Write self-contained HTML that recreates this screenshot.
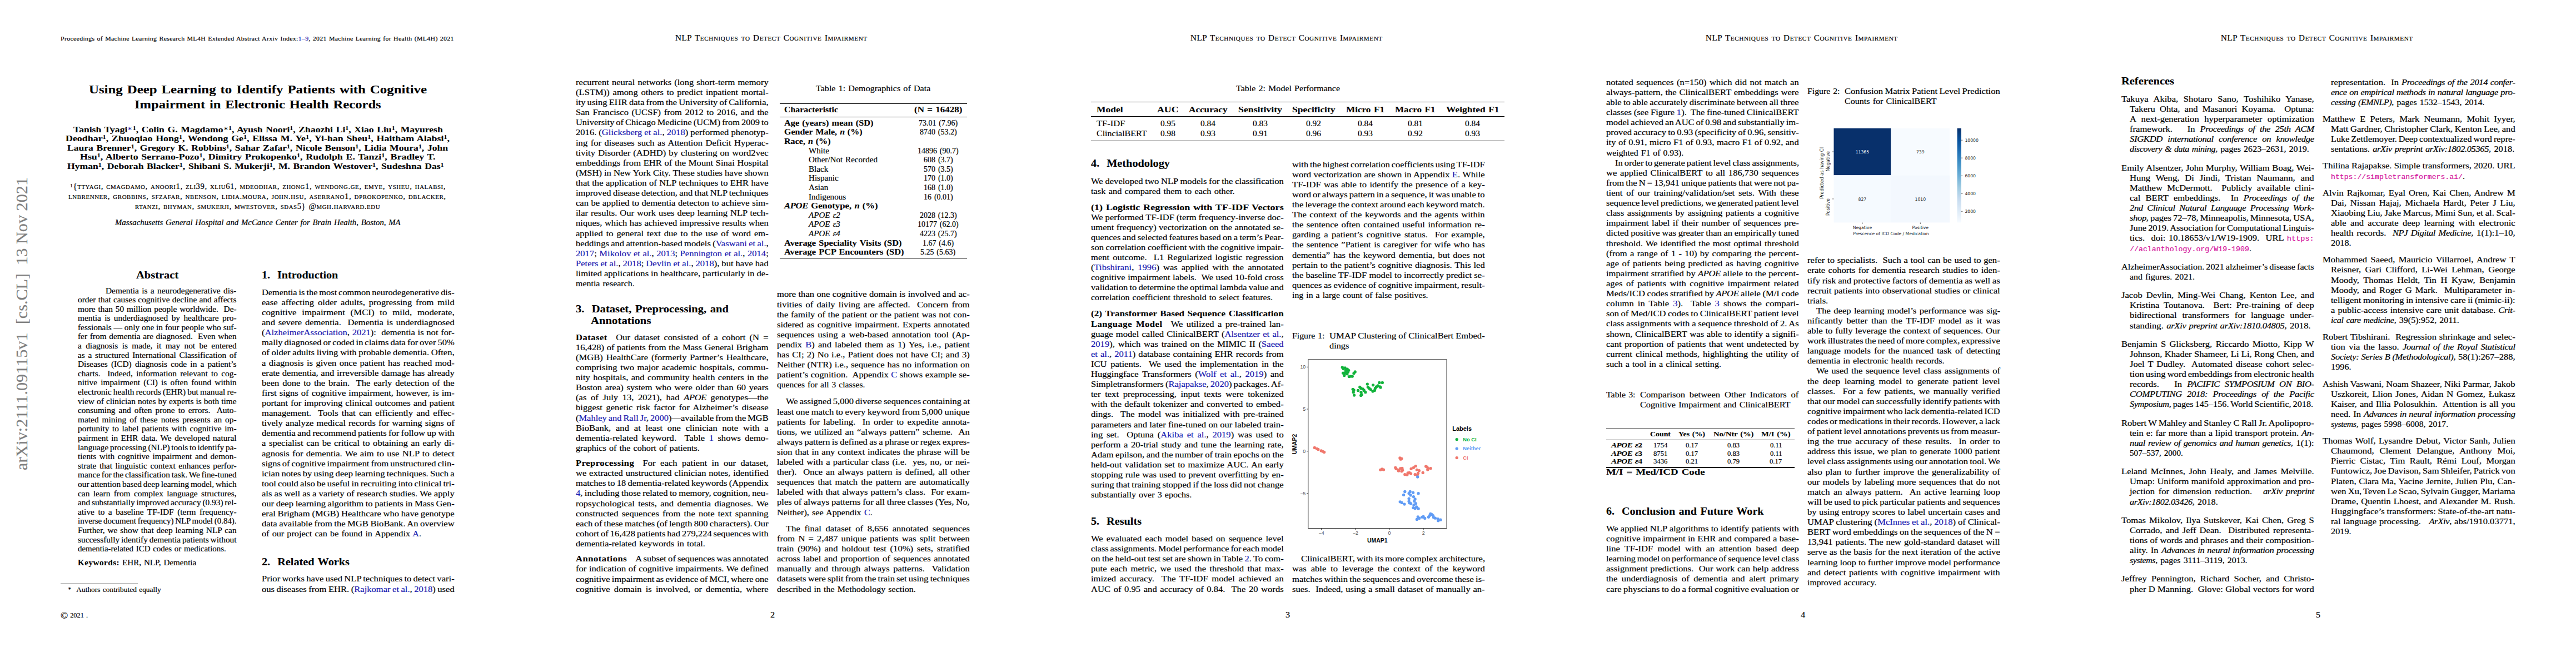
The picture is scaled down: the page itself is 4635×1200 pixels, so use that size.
<!DOCTYPE html>
<html lang="en"><head><meta charset="utf-8"><title>Using Deep Learning to Identify Patients with Cognitive Impairment in Electronic Health Records</title>
<style>

html,body{margin:0;padding:0;background:#fff}
body{width:4635px;height:1200px;position:relative;overflow:hidden;font-family:"Liberation Serif",serif;color:#000}
.pg{position:absolute;top:0;width:927px;height:1200px;overflow:visible}
.l{position:absolute;white-space:nowrap;line-height:0;transform-origin:0 0;font-size:15.09px;-webkit-text-stroke:0.18px currentColor}
.b,b{font-weight:bold;-webkit-text-stroke:0.1px currentColor}
.i{font-style:italic}
i{letter-spacing:-0.35px}
.sc{font-variant:small-caps;letter-spacing:0.04em}
.hd{letter-spacing:0.03em}
a{color:#1a1ab0}
tt{font-family:"Liberation Mono",monospace;font-size:0.82em;color:#d4149c}
sup{font-size:68%;position:relative;top:-0.38em;vertical-align:baseline;line-height:0}
sup.n{font-variant:normal}
.as{font-weight:normal;font-size:85%}
.cr{font-size:140%;position:relative;top:0.12em}
b{letter-spacing:0.45px}
.q{display:inline-block;width:0.92em}
.ru{position:absolute}
.fig{position:absolute}
.stamp{color:#7f7f7f}

</style></head><body>
<div class="pg" style="left:0px">
<div class="l hd" style="left:109.40px;top:70.00px;font-size:10.56px;word-spacing:0.74px;transform:scaleX(1.1164);">Proceedings of Machine Learning Research ML4H Extended Abstract Arxiv Index:<a>1–9</a>, 2021 Machine Learning for Health (ML4H) 2021</div>
<div class="l b" style="left:159.80px;top:161.00px;font-size:21.73px;word-spacing:1.52px;transform:scaleX(1.1445);">Using Deep Learning to Identify Patients with Cognitive</div>
<div class="l b" style="left:241.60px;top:188.00px;font-size:21.73px;word-spacing:1.52px;transform:scaleX(1.1326);">Impairment in Electronic Health Records</div>
<div class="l b" style="left:131.50px;top:233.00px;word-spacing:1.06px;transform:scaleX(1.1681);">Tanish Tyagi<sup><a class="as">∗</a>1</sup>, Colin G. Magdamo<sup><span class="as">∗</span>1</sup>, Ayush Noori<sup>1</sup>, Zhaozhi Li<sup>1</sup>, Xiao Liu<sup>1</sup>, Mayuresh</div>
<div class="l b" style="left:118.00px;top:249.00px;word-spacing:1.06px;transform:scaleX(1.1862);">Deodhar<sup>1</sup>, Zhuoqiao Hong<sup>1</sup>, Wendong Ge<sup>1</sup>, Elissa M. Ye<sup>1</sup>, Yi-han Sheu<sup>1</sup>, Haitham Alabsi<sup>1</sup>,</div>
<div class="l b" style="left:121.00px;top:266.00px;word-spacing:1.06px;transform:scaleX(1.1664);">Laura Brenner<sup>1</sup>, Gregory K. Robbins<sup>1</sup>, Sahar Zafar<sup>1</sup>, Nicole Benson<sup>1</sup>, Lidia Moura<sup>1</sup>, John</div>
<div class="l b" style="left:144.00px;top:282.00px;word-spacing:1.06px;transform:scaleX(1.1847);">Hsu<sup>1</sup>, Alberto Serrano-Pozo<sup>1</sup>, Dimitry Prokopenko<sup>1</sup>, Rudolph E. Tanzi<sup>1</sup>, Bradley T.</div>
<div class="l b" style="left:121.00px;top:299.00px;word-spacing:1.06px;transform:scaleX(1.1688);">Hyman<sup>1</sup>, Deborah Blacker<sup>1</sup>, Shibani S. Mukerji<sup>1</sup>, M. Brandon Westover<sup>1</sup>, Sudeshna Das<sup>1</sup></div>
<div class="l sc" style="left:125.50px;top:336.00px;font-size:13.58px;word-spacing:0.95px;transform:scaleX(1.0809);"><sup class="n">1</sup>{ttyagi, cmagdamo, anoori1, zli39, xliu61, mdeodhar, zhong1, wendong.ge, emye, ysheu, halabsi,</div>
<div class="l sc" style="left:123.40px;top:354.00px;font-size:13.58px;word-spacing:0.95px;transform:scaleX(1.0896);">lnbrenner, grobbins, sfzafar, nbenson, lidia.moura, john.hsu, aserrano1, dprokopenko, dblacker,</div>
<div class="l sc" style="left:243.00px;top:372.00px;font-size:13.58px;word-spacing:0.95px;transform:scaleX(1.0781);">rtanzi, bhyman, smukerji, mwestover, sdas5} @mgh.harvard.edu</div>
<div class="l i" style="left:207.00px;top:401.00px;font-size:13.58px;word-spacing:0.95px;transform:scaleX(1.0902);">Massachusetts General Hospital and McCance Center for Brain Health, Boston, MA</div>
<div class="l b" style="left:244.60px;top:495.00px;font-size:18.11px;transform:scaleX(1.1307);">Abstract</div>
<div class="l b" style="left:471.30px;top:495.00px;font-size:18.11px;word-spacing:1.27px;transform:scaleX(1.1121);">1.&nbsp; Introduction</div>
<div class="l" style="left:190.00px;top:524.00px;font-size:13.58px;word-spacing:1.37px;transform:scaleX(1.1330);">Dementia is a neurodegenerative dis-</div>
<div class="l" style="left:139.60px;top:540.00px;font-size:13.58px;word-spacing:0.33px;transform:scaleX(1.1330);">order that causes cognitive decline and affects</div>
<div class="l" style="left:139.60px;top:557.00px;font-size:13.58px;word-spacing:0.89px;transform:scaleX(1.1330);">more than 50 million people worldwide.&nbsp; De-</div>
<div class="l" style="left:139.60px;top:573.00px;font-size:13.58px;word-spacing:2.23px;transform:scaleX(1.1330);">mentia is underdiagnosed by healthcare pro-</div>
<div class="l" style="left:139.60px;top:590.00px;font-size:13.58px;word-spacing:0.02px;transform:scaleX(1.1330);">fessionals — only one in four people who suf-</div>
<div class="l" style="left:139.60px;top:606.00px;font-size:13.58px;word-spacing:0.68px;transform:scaleX(1.1330);">fer from dementia are diagnosed.&nbsp; Even when</div>
<div class="l" style="left:139.60px;top:623.00px;font-size:13.58px;word-spacing:3.09px;transform:scaleX(1.1330);">a diagnosis is made, it may not be entered</div>
<div class="l" style="left:139.60px;top:640.00px;font-size:13.58px;word-spacing:1.62px;transform:scaleX(1.1330);">as a structured International Classification of</div>
<div class="l" style="left:139.60px;top:656.00px;font-size:13.58px;word-spacing:2.04px;transform:scaleX(1.1330);">Diseases (ICD) diagnosis code in a patient’s</div>
<div class="l" style="left:139.60px;top:673.00px;font-size:13.58px;word-spacing:2.17px;transform:scaleX(1.1330);">charts.&nbsp; Indeed, information relevant to cog-</div>
<div class="l" style="left:139.60px;top:689.00px;font-size:13.58px;word-spacing:2.04px;transform:scaleX(1.1330);">nitive impairment (CI) is often found within</div>
<div class="l" style="left:139.60px;top:706.00px;font-size:13.58px;word-spacing:-0.59px;transform:scaleX(1.1330);">electronic health records (EHR) but manual re-</div>
<div class="l" style="left:139.60px;top:723.00px;font-size:13.58px;word-spacing:0.21px;transform:scaleX(1.1330);">view of clinician notes by experts is both time</div>
<div class="l" style="left:139.60px;top:739.00px;font-size:13.58px;word-spacing:1.96px;transform:scaleX(1.1330);">consuming and often prone to errors.&nbsp; Auto-</div>
<div class="l" style="left:139.60px;top:756.00px;font-size:13.58px;word-spacing:1.91px;transform:scaleX(1.1330);">mated mining of these notes presents an op-</div>
<div class="l" style="left:139.60px;top:772.00px;font-size:13.58px;word-spacing:1.54px;transform:scaleX(1.1330);">portunity to label patients with cognitive im-</div>
<div class="l" style="left:139.60px;top:789.00px;font-size:13.58px;word-spacing:1.45px;transform:scaleX(1.1330);">pairment in EHR data. We developed natural</div>
<div class="l" style="left:139.60px;top:806.00px;font-size:13.58px;word-spacing:-0.95px;transform:scaleX(1.1289);">language processing (NLP) tools to identify pa-</div>
<div class="l" style="left:139.60px;top:822.00px;font-size:13.58px;word-spacing:1.47px;transform:scaleX(1.1330);">tients with cognitive impairment and demon-</div>
<div class="l" style="left:139.60px;top:839.00px;font-size:13.58px;word-spacing:1.53px;transform:scaleX(1.1330);">strate that linguistic context enhances perfor-</div>
<div class="l" style="left:139.60px;top:855.00px;font-size:13.58px;word-spacing:-0.95px;transform:scaleX(1.1300);">mance for the classification task. We fine-tuned</div>
<div class="l" style="left:139.60px;top:872.00px;font-size:13.58px;word-spacing:-0.91px;transform:scaleX(1.1330);">our attention based deep learning model, which</div>
<div class="l" style="left:139.60px;top:889.00px;font-size:13.58px;word-spacing:2.16px;transform:scaleX(1.1330);">can learn from complex language structures,</div>
<div class="l" style="left:139.60px;top:905.00px;font-size:13.58px;word-spacing:-0.95px;transform:scaleX(1.1316);">and substantially improved accuracy (0.93) rel-</div>
<div class="l" style="left:139.60px;top:922.00px;font-size:13.58px;word-spacing:2.34px;transform:scaleX(1.1330);">ative to a baseline TF-IDF (term frequency-</div>
<div class="l" style="left:139.60px;top:938.00px;font-size:13.58px;word-spacing:-0.95px;transform:scaleX(1.1024);">inverse document frequency) NLP model (0.84).</div>
<div class="l" style="left:139.60px;top:955.00px;font-size:13.58px;word-spacing:0.93px;transform:scaleX(1.1330);">Further, we show that deep learning NLP can</div>
<div class="l" style="left:139.60px;top:972.00px;font-size:13.58px;word-spacing:-0.90px;transform:scaleX(1.1330);">successfully identify dementia patients without</div>
<div class="l" style="left:139.60px;top:988.00px;font-size:13.58px;word-spacing:0.95px;transform:scaleX(1.0965);">dementia-related ICD codes or medications.</div>
<div class="l" style="left:139.90px;top:1013.00px;font-size:13.58px;word-spacing:0.95px;transform:scaleX(1.1149);"><b>Keywords:</b> EHR, NLP, Dementia</div>
<div class="l" style="left:121.60px;top:1061.00px;font-size:12.07px;word-spacing:0.84px;transform:scaleX(1.1124);"><sup class="n" style="font-size:60%;top:-0.55em">∗</sup>&nbsp;&nbsp;Authors contributed equally</div>
<div class="l" style="left:109.00px;top:1106.00px;font-size:12.07px;word-spacing:0.84px;transform:scaleX(1.0275);"><span class="cr">©</span> 2021 .</div>
<div class="l" style="left:471.30px;top:526.00px;word-spacing:-1.06px;transform:scaleX(1.0854);">Dementia is the most common neurodegenerative dis-</div>
<div class="l" style="left:471.30px;top:544.00px;word-spacing:2.54px;transform:scaleX(1.1000);">ease affecting older adults, progressing from mild</div>
<div class="l" style="left:471.30px;top:562.00px;word-spacing:4.98px;transform:scaleX(1.1152);">cognitive impairment (MCI) to mild, moderate,</div>
<div class="l" style="left:471.30px;top:580.00px;word-spacing:1.52px;transform:scaleX(1.1000);">and severe dementia.&nbsp; Dementia is underdiagnosed</div>
<div class="l" style="left:471.30px;top:598.00px;word-spacing:0.44px;transform:scaleX(1.1000);">(<a>AlzheimerAssociation</a>, <a>2021</a>):&nbsp; dementia is not for-</div>
<div class="l" style="left:471.30px;top:616.00px;word-spacing:-1.06px;transform:scaleX(1.0948);">mally diagnosed or coded in claims data for over 50%</div>
<div class="l" style="left:471.30px;top:634.00px;word-spacing:-0.38px;transform:scaleX(1.1000);">of older adults living with probable dementia. Often,</div>
<div class="l" style="left:471.30px;top:653.00px;word-spacing:1.19px;transform:scaleX(1.1000);">a diagnosis is given once patient has reached mod-</div>
<div class="l" style="left:471.30px;top:671.00px;word-spacing:0.41px;transform:scaleX(1.1000);">erate dementia, and irreversible damage has already</div>
<div class="l" style="left:471.30px;top:689.00px;word-spacing:1.53px;transform:scaleX(1.1000);">been done to the brain.&nbsp; The early detection of the</div>
<div class="l" style="left:471.30px;top:707.00px;word-spacing:0.78px;transform:scaleX(1.1000);">first signs of cognitive impairment, however, is im-</div>
<div class="l" style="left:471.30px;top:725.00px;word-spacing:0.75px;transform:scaleX(1.1000);">portant for improving clinical outcomes and patient</div>
<div class="l" style="left:471.30px;top:743.00px;word-spacing:1.87px;transform:scaleX(1.1000);">management.&nbsp; Tools that can efficiently and effec-</div>
<div class="l" style="left:471.30px;top:761.00px;word-spacing:0.82px;transform:scaleX(1.1000);">tively analyze medical records for warning signs of</div>
<div class="l" style="left:471.30px;top:779.00px;word-spacing:-0.74px;transform:scaleX(1.1000);">dementia and recommend patients for follow up with</div>
<div class="l" style="left:471.30px;top:797.00px;word-spacing:1.29px;transform:scaleX(1.1000);">a specialist can be critical to obtaining an early di-</div>
<div class="l" style="left:471.30px;top:816.00px;word-spacing:1.10px;transform:scaleX(1.1000);">agnosis for dementia. We aim to use NLP to detect</div>
<div class="l" style="left:471.30px;top:834.00px;word-spacing:-1.06px;transform:scaleX(1.0910);">signs of cognitive impairment from unstructured clin-</div>
<div class="l" style="left:471.30px;top:852.00px;word-spacing:-0.85px;transform:scaleX(1.1000);">ician notes by using deep learning techniques. Such a</div>
<div class="l" style="left:471.30px;top:870.00px;word-spacing:-0.85px;transform:scaleX(1.1000);">tool could also be useful in recruiting into clinical tri-</div>
<div class="l" style="left:471.30px;top:888.00px;word-spacing:-0.03px;transform:scaleX(1.1000);">als as well as a variety of research studies. We apply</div>
<div class="l" style="left:471.30px;top:906.00px;word-spacing:-0.49px;transform:scaleX(1.1000);">our deep learning algorithm to patients in Mass Gen-</div>
<div class="l" style="left:471.30px;top:924.00px;word-spacing:-0.37px;transform:scaleX(1.1000);">eral Brigham (MGB) Healthcare who have genotype</div>
<div class="l" style="left:471.30px;top:942.00px;word-spacing:-0.56px;transform:scaleX(1.1000);">data available from the MGB BioBank. An overview</div>
<div class="l" style="left:471.30px;top:960.00px;word-spacing:1.06px;transform:scaleX(1.0722);">of our project can be found in Appendix <a>A</a>.</div>
<div class="l b" style="left:471.30px;top:1011.00px;font-size:18.11px;word-spacing:1.27px;transform:scaleX(1.1180);">2.&nbsp; Related Works</div>
<div class="l" style="left:471.30px;top:1041.00px;word-spacing:-0.84px;transform:scaleX(1.1000);">Prior works have used NLP techniques to detect vari-</div>
<div class="l" style="left:471.30px;top:1060.00px;word-spacing:-0.65px;transform:scaleX(1.1000);">ous diseases from EHR. (<a>Rajkomar et al.</a>, <a>2018</a>) used</div>
<div class="l stamp" style="left:38.90px;top:846.40px;font-size:30.30px;transform:rotate(-90deg) scaleX(0.9973);">arXiv:2111.09115v1&nbsp; [cs.CL]&nbsp; 13 Nov 2021</div>
<div class="ru" style="left:109.00px;top:1049.80px;width:138.60px;height:0.80px;background:#000"></div>
</div>
<div class="pg" style="left:927px">
<div class="l sc" style="left:288.00px;top:69.00px;font-size:13.58px;word-spacing:0.95px;transform:scaleX(1.1135);">NLP Techniques to Detect Cognitive Impairment</div>
<div class="l" style="left:109.00px;top:148.00px;word-spacing:0.82px;transform:scaleX(1.1000);">recurrent neural networks (long short-term memory</div>
<div class="l" style="left:109.00px;top:166.00px;word-spacing:1.44px;transform:scaleX(1.1000);">(LSTM)) among others to predict inpatient mortal-</div>
<div class="l" style="left:109.00px;top:184.00px;word-spacing:-0.96px;transform:scaleX(1.1000);">ity using EHR data from the University of California,</div>
<div class="l" style="left:109.00px;top:202.00px;word-spacing:1.34px;transform:scaleX(1.1000);">San Francisco (UCSF) from 2012 to 2016, and the</div>
<div class="l" style="left:109.00px;top:220.00px;word-spacing:-1.06px;transform:scaleX(1.0903);">University of Chicago Medicine (UCM) from 2009 to</div>
<div class="l" style="left:109.00px;top:238.00px;word-spacing:-0.12px;transform:scaleX(1.1000);">2016. (<a>Glicksberg et al.</a>, <a>2018</a>) performed phenotyp-</div>
<div class="l" style="left:109.00px;top:257.00px;word-spacing:1.18px;transform:scaleX(1.1000);">ing for diseases such as Attention Deficit Hyperac-</div>
<div class="l" style="left:109.00px;top:275.00px;word-spacing:0.88px;transform:scaleX(1.1000);">tivity Disorder (ADHD) by clustering on word2vec</div>
<div class="l" style="left:109.00px;top:293.00px;word-spacing:0.45px;transform:scaleX(1.1000);">embeddings from EHR of the Mount Sinai Hospital</div>
<div class="l" style="left:109.00px;top:311.00px;word-spacing:-0.13px;transform:scaleX(1.1000);">(MSH) in New York City. These studies have shown</div>
<div class="l" style="left:109.00px;top:329.00px;word-spacing:0.21px;transform:scaleX(1.1000);">that the application of NLP techniques to EHR have</div>
<div class="l" style="left:109.00px;top:347.00px;word-spacing:-0.76px;transform:scaleX(1.1000);">improved disease detection, and that NLP techniques</div>
<div class="l" style="left:109.00px;top:365.00px;word-spacing:0.36px;transform:scaleX(1.1000);">can be applied to dementia detecton to achieve sim-</div>
<div class="l" style="left:109.00px;top:383.00px;word-spacing:0.68px;transform:scaleX(1.1000);">ilar results. Our work uses deep learning NLP tech-</div>
<div class="l" style="left:109.00px;top:401.00px;word-spacing:0.26px;transform:scaleX(1.1000);">niques, which has achieved impressive results when</div>
<div class="l" style="left:109.00px;top:420.00px;word-spacing:1.54px;transform:scaleX(1.1000);">applied to general text due to the use of word em-</div>
<div class="l" style="left:109.00px;top:438.00px;word-spacing:-0.79px;transform:scaleX(1.1000);">beddings and attention-based models (<a>Vaswani et al.</a>,</div>
<div class="l" style="left:109.00px;top:456.00px;word-spacing:0.34px;transform:scaleX(1.1000);"><a>2017</a>; <a>Mikolov et al.</a>, <a>2013</a>; <a>Pennington et al.</a>, <a>2014</a>;</div>
<div class="l" style="left:109.00px;top:474.00px;word-spacing:-0.18px;transform:scaleX(1.1000);"><a>Peters et al.</a>, <a>2018</a>; <a>Devlin et al.</a>, <a>2018</a>), but have had</div>
<div class="l" style="left:109.00px;top:492.00px;word-spacing:-0.15px;transform:scaleX(1.1000);">limited applications in healthcare, particularly in de-</div>
<div class="l" style="left:109.00px;top:510.00px;word-spacing:1.06px;transform:scaleX(1.0586);">mentia research.</div>
<div class="l b" style="left:109.00px;top:556.00px;font-size:18.11px;word-spacing:1.27px;transform:scaleX(1.1395);">3.&nbsp; Dataset, Preprocessing, and</div>
<div class="l b" style="left:136.00px;top:577.00px;font-size:18.11px;transform:scaleX(1.1468);">Annotations</div>
<div class="l" style="left:109.00px;top:607.00px;word-spacing:2.79px;transform:scaleX(1.1000);"><b>Dataset</b><span class="q"></span>Our dataset consisted of a cohort (N =</div>
<div class="l" style="left:109.00px;top:625.00px;word-spacing:0.40px;transform:scaleX(1.1000);">16,428) of patients from the Mass General Brigham</div>
<div class="l" style="left:109.00px;top:643.00px;word-spacing:1.51px;transform:scaleX(1.1000);">(MGB) HealthCare (formerly Partner’s Healthcare,</div>
<div class="l" style="left:109.00px;top:661.00px;word-spacing:1.23px;transform:scaleX(1.1000);">comprising two major academic hospitals, commu-</div>
<div class="l" style="left:109.00px;top:679.00px;word-spacing:1.12px;transform:scaleX(1.1000);">nity hospitals, and community health centers in the</div>
<div class="l" style="left:109.00px;top:697.00px;word-spacing:1.40px;transform:scaleX(1.1000);">Boston area) system who were older than 60 years</div>
<div class="l" style="left:109.00px;top:715.00px;word-spacing:3.17px;transform:scaleX(1.1000);">(as of July 13, 2021), had <i>APOE</i> genotypes—the</div>
<div class="l" style="left:109.00px;top:733.00px;word-spacing:2.19px;transform:scaleX(1.1000);">biggest genetic risk factor for Alzheimer’s disease</div>
<div class="l" style="left:109.00px;top:752.00px;word-spacing:-1.06px;transform:scaleX(1.0909);">(<a>Mahley and Rall Jr</a>, <a>2000</a>)—available from the MGB</div>
<div class="l" style="left:109.00px;top:770.00px;word-spacing:4.28px;transform:scaleX(1.1000);">BioBank, and at least one clinician note with a</div>
<div class="l" style="left:109.00px;top:788.00px;word-spacing:2.99px;transform:scaleX(1.1000);">dementia-related keyword.&nbsp; Table <a>1</a> shows demo-</div>
<div class="l" style="left:109.00px;top:806.00px;word-spacing:1.06px;transform:scaleX(1.0719);">graphics of the cohort of patients.</div>
<div class="l" style="left:109.00px;top:833.00px;word-spacing:3.93px;transform:scaleX(1.1000);"><b>Preprocessing</b><span class="q"></span>For each patient in our dataset,</div>
<div class="l" style="left:109.00px;top:851.00px;word-spacing:0.57px;transform:scaleX(1.1000);">we extracted unstructured clinician notes, identified</div>
<div class="l" style="left:109.00px;top:869.00px;word-spacing:-0.86px;transform:scaleX(1.1000);">matches to 18 dementia-related keywords (Appendix</div>
<div class="l" style="left:109.00px;top:887.00px;word-spacing:-0.66px;transform:scaleX(1.1000);"><a>4</a>, including those related to memory, cognition, neu-</div>
<div class="l" style="left:109.00px;top:906.00px;word-spacing:1.95px;transform:scaleX(1.1000);">ropsychological tests, and dementia diagnoses. We</div>
<div class="l" style="left:109.00px;top:924.00px;word-spacing:1.86px;transform:scaleX(1.1000);">constructed sequences from the note text spanning</div>
<div class="l" style="left:109.00px;top:942.00px;word-spacing:-0.85px;transform:scaleX(1.1000);">each of these matches (of length 800 characters). Our</div>
<div class="l" style="left:109.00px;top:960.00px;word-spacing:-1.06px;transform:scaleX(1.0932);">cohort of 16,428 patients had 279,224 sequences with</div>
<div class="l" style="left:109.00px;top:978.00px;word-spacing:1.06px;transform:scaleX(1.0748);">dementia-related keywords in total.</div>
<div class="l" style="left:109.00px;top:1005.00px;word-spacing:-0.95px;transform:scaleX(1.1000);"><b>Annotations</b><span class="q"></span>A subset of sequences was annotated</div>
<div class="l" style="left:109.00px;top:1023.00px;word-spacing:0.37px;transform:scaleX(1.1000);">for indication of cognitive impairments. We defined</div>
<div class="l" style="left:109.00px;top:1042.00px;word-spacing:-0.91px;transform:scaleX(1.1000);">cognitive impairment as evidence of MCI, where one</div>
<div class="l" style="left:109.00px;top:1060.00px;word-spacing:2.70px;transform:scaleX(1.1000);">cognitive domain is involved, or dementia, where</div>
<div class="l" style="left:458.92px;top:1106.00px;word-spacing:1.06px;transform:scaleX(1.0800);">2</div>
<div class="l" style="left:541.45px;top:159.00px;word-spacing:1.06px;transform:scaleX(1.0675);">Table 1: Demographics of Data</div>
<div class="l b" style="left:484.00px;top:198.00px;font-size:13.58px;transform:scaleX(1.1693);">Characteristic</div>
<div class="l b" style="left:717.85px;top:198.00px;font-size:13.58px;word-spacing:0.95px;transform:scaleX(1.2466);">(N = 16428)</div>
<div class="l b" style="left:484.00px;top:222.00px;font-size:13.58px;word-spacing:0.95px;transform:scaleX(1.2005);">Age (years) mean (SD)</div>
<div class="l" style="left:725.92px;top:222.00px;font-size:13.58px;word-spacing:1.36px;transform:scaleX(1.0300);">73.01 (7.96)</div>
<div class="l b" style="left:484.00px;top:238.00px;font-size:13.58px;word-spacing:0.95px;transform:scaleX(1.1789);">Gender Male, <i>n</i> (%)</div>
<div class="l" style="left:727.67px;top:238.00px;font-size:13.58px;word-spacing:1.36px;transform:scaleX(1.0300);">8740 (53.2)</div>
<div class="l b" style="left:484.00px;top:255.00px;font-size:13.58px;word-spacing:0.95px;transform:scaleX(1.1832);">Race, <i>n</i> (%)</div>
<div class="l" style="left:528.30px;top:272.00px;font-size:13.58px;word-spacing:0.95px;transform:scaleX(1.1124);">White</div>
<div class="l" style="left:724.17px;top:272.00px;font-size:13.58px;word-spacing:1.36px;transform:scaleX(1.0300);">14896 (90.7)</div>
<div class="l" style="left:528.30px;top:288.00px;font-size:13.58px;word-spacing:0.95px;transform:scaleX(1.1124);">Other/Not Recorded</div>
<div class="l" style="left:734.66px;top:288.00px;font-size:13.58px;word-spacing:1.36px;transform:scaleX(1.0300);">608 (3.7)</div>
<div class="l" style="left:528.30px;top:305.00px;font-size:13.58px;word-spacing:0.95px;transform:scaleX(1.1124);">Black</div>
<div class="l" style="left:734.66px;top:305.00px;font-size:13.58px;word-spacing:1.36px;transform:scaleX(1.0300);">570 (3.5)</div>
<div class="l" style="left:528.30px;top:321.00px;font-size:13.58px;word-spacing:0.95px;transform:scaleX(1.1124);">Hispanic</div>
<div class="l" style="left:734.66px;top:321.00px;font-size:13.58px;word-spacing:1.36px;transform:scaleX(1.0300);">170 (1.0)</div>
<div class="l" style="left:528.30px;top:338.00px;font-size:13.58px;word-spacing:0.95px;transform:scaleX(1.1124);">Asian</div>
<div class="l" style="left:734.66px;top:338.00px;font-size:13.58px;word-spacing:1.36px;transform:scaleX(1.0300);">168 (1.0)</div>
<div class="l" style="left:528.30px;top:355.00px;font-size:13.58px;word-spacing:0.95px;transform:scaleX(1.1124);">Indigenous</div>
<div class="l" style="left:734.66px;top:355.00px;font-size:13.58px;word-spacing:1.36px;transform:scaleX(1.0300);">16 (0.01)</div>
<div class="l b" style="left:484.00px;top:371.00px;font-size:13.58px;word-spacing:0.95px;transform:scaleX(1.2306);"><i>APOE</i> Genotype, <i>n</i> (%)</div>
<div class="l i" style="left:528.30px;top:388.00px;font-size:13.58px;word-spacing:0.95px;transform:scaleX(1.1124);">APOE ε2</div>
<div class="l" style="left:727.67px;top:388.00px;font-size:13.58px;word-spacing:1.36px;transform:scaleX(1.0300);">2028 (12.3)</div>
<div class="l i" style="left:528.30px;top:404.00px;font-size:13.58px;word-spacing:0.95px;transform:scaleX(1.1124);">APOE ε3</div>
<div class="l" style="left:724.17px;top:404.00px;font-size:13.58px;word-spacing:1.36px;transform:scaleX(1.0300);">10177 (62.0)</div>
<div class="l i" style="left:528.30px;top:421.00px;font-size:13.58px;word-spacing:0.95px;transform:scaleX(1.1124);">APOE ε4</div>
<div class="l" style="left:727.67px;top:421.00px;font-size:13.58px;word-spacing:1.36px;transform:scaleX(1.0300);">4223 (25.7)</div>
<div class="l b" style="left:484.00px;top:438.00px;font-size:13.58px;word-spacing:0.95px;transform:scaleX(1.2089);">Average Speciality Visits (SD)</div>
<div class="l" style="left:732.91px;top:438.00px;font-size:13.58px;word-spacing:1.36px;transform:scaleX(1.0300);">1.67 (4.6)</div>
<div class="l b" style="left:484.00px;top:454.00px;font-size:13.58px;word-spacing:0.95px;transform:scaleX(1.2059);">Average PCP Encounters (SD)</div>
<div class="l" style="left:729.42px;top:454.00px;font-size:13.58px;word-spacing:1.36px;transform:scaleX(1.0300);">5.25 (5.63)</div>
<div class="l" style="left:471.30px;top:529.00px;word-spacing:0.25px;transform:scaleX(1.1000);">more than one cognitive domain is involved and ac-</div>
<div class="l" style="left:471.30px;top:548.00px;word-spacing:1.91px;transform:scaleX(1.1000);">tivities of daily living are affected.&nbsp; Concern from</div>
<div class="l" style="left:471.30px;top:566.00px;word-spacing:0.62px;transform:scaleX(1.1000);">the family of the patient or the patient was not con-</div>
<div class="l" style="left:471.30px;top:584.00px;word-spacing:1.23px;transform:scaleX(1.1000);">sidered as cognitive impairment. Experts annotated</div>
<div class="l" style="left:471.30px;top:602.00px;word-spacing:2.00px;transform:scaleX(1.1000);">sequences using a web-based annotation tool (Ap-</div>
<div class="l" style="left:471.30px;top:620.00px;word-spacing:1.80px;transform:scaleX(1.1000);">pendix <a>B</a>) and labeled them as 1) Yes, i.e., patient</div>
<div class="l" style="left:471.30px;top:638.00px;word-spacing:0.94px;transform:scaleX(1.1000);">has CI; 2) No i.e., Patient does not have CI; and 3)</div>
<div class="l" style="left:471.30px;top:656.00px;word-spacing:0.64px;transform:scaleX(1.1000);">Neither (NTR) i.e., sequence has no information on</div>
<div class="l" style="left:471.30px;top:674.00px;word-spacing:0.27px;transform:scaleX(1.1000);">patient’s cognition.&nbsp; Appendix <a>C</a> shows example se-</div>
<div class="l" style="left:471.30px;top:692.00px;word-spacing:1.06px;transform:scaleX(1.0299);">quences for all 3 classes.</div>
<div class="l" style="left:486.90px;top:722.00px;word-spacing:-1.06px;transform:scaleX(1.0998);">We assigned 5,000 diverse sequences containing at</div>
<div class="l" style="left:471.30px;top:741.00px;word-spacing:-0.43px;transform:scaleX(1.1000);">least one match to every keyword from 5,000 unique</div>
<div class="l" style="left:471.30px;top:759.00px;word-spacing:1.98px;transform:scaleX(1.1000);">patients for labeling.&nbsp; In order to expedite annota-</div>
<div class="l" style="left:471.30px;top:777.00px;word-spacing:1.40px;transform:scaleX(1.1000);">tions, we utilized an “always pattern” scheme.&nbsp; An</div>
<div class="l" style="left:471.30px;top:795.00px;word-spacing:-0.75px;transform:scaleX(1.1000);">always pattern is defined as a phrase or regex expres-</div>
<div class="l" style="left:471.30px;top:813.00px;word-spacing:0.73px;transform:scaleX(1.1000);">sion that in any context indicates the phrase will be</div>
<div class="l" style="left:471.30px;top:831.00px;word-spacing:1.12px;transform:scaleX(1.1000);">labeled with a particular class (i.e.&nbsp; yes, no, or nei-</div>
<div class="l" style="left:471.30px;top:849.00px;word-spacing:1.57px;transform:scaleX(1.1000);">ther).&nbsp; Once an always pattern is defined, all other</div>
<div class="l" style="left:471.30px;top:867.00px;word-spacing:1.87px;transform:scaleX(1.1000);">sequences that match the pattern are automatically</div>
<div class="l" style="left:471.30px;top:885.00px;word-spacing:0.82px;transform:scaleX(1.1000);">labeled with that always pattern’s class.&nbsp; For exam-</div>
<div class="l" style="left:471.30px;top:903.00px;word-spacing:-0.31px;transform:scaleX(1.1000);">ples of always patterns for all three classes (Yes, No,</div>
<div class="l" style="left:471.30px;top:922.00px;word-spacing:1.06px;transform:scaleX(1.0717);">Neither), see Appendix <a>C</a>.</div>
<div class="l" style="left:486.90px;top:951.00px;word-spacing:3.20px;transform:scaleX(1.1000);">The final dataset of 8,656 annotated sequences</div>
<div class="l" style="left:471.30px;top:969.00px;word-spacing:1.85px;transform:scaleX(1.1000);">from N = 2,487 unique patients was split between</div>
<div class="l" style="left:471.30px;top:987.00px;word-spacing:2.43px;transform:scaleX(1.1000);">train (90%) and holdout test (10%) sets, stratified</div>
<div class="l" style="left:471.30px;top:1005.00px;word-spacing:1.31px;transform:scaleX(1.1000);">across label and proportion of sequences annotated</div>
<div class="l" style="left:471.30px;top:1023.00px;word-spacing:2.12px;transform:scaleX(1.1000);">manually and through always patterns.&nbsp; Validation</div>
<div class="l" style="left:471.30px;top:1041.00px;word-spacing:-0.91px;transform:scaleX(1.1000);">datasets were split from the train set using techniques</div>
<div class="l" style="left:471.30px;top:1060.00px;word-spacing:1.06px;transform:scaleX(1.0627);">described in the Methodology section.</div>
<div class="ru" style="left:475.50px;top:185.55px;width:337.20px;height:1.30px;background:#000"></div>
<div class="ru" style="left:475.50px;top:210.10px;width:337.20px;height:0.80px;background:#000"></div>
<div class="ru" style="left:475.50px;top:464.15px;width:337.20px;height:1.30px;background:#000"></div>
</div>
<div class="pg" style="left:1854px">
<div class="l sc" style="left:288.00px;top:69.00px;font-size:13.58px;word-spacing:0.95px;transform:scaleX(1.1135);">NLP Techniques to Detect Cognitive Impairment</div>
<div class="l" style="left:370.00px;top:159.00px;word-spacing:1.06px;transform:scaleX(1.0633);">Table 2: Model Performance</div>
<div class="l b" style="left:118.50px;top:197.00px;transform:scaleX(1.1572);">Model</div>
<div class="l b" style="left:228.35px;top:197.00px;transform:scaleX(1.1784);">AUC</div>
<div class="l b" style="left:285.05px;top:197.00px;transform:scaleX(1.1370);">Accuracy</div>
<div class="l b" style="left:373.50px;top:197.00px;transform:scaleX(1.1786);">Sensitivity</div>
<div class="l b" style="left:471.05px;top:197.00px;transform:scaleX(1.1567);">Specificity</div>
<div class="l b" style="left:567.50px;top:197.00px;word-spacing:1.06px;transform:scaleX(1.1377);">Micro F1</div>
<div class="l b" style="left:655.75px;top:197.00px;word-spacing:1.06px;transform:scaleX(1.1326);">Macro F1</div>
<div class="l b" style="left:748.05px;top:197.00px;word-spacing:1.06px;transform:scaleX(1.1544);">Weighted F1</div>
<div class="l" style="left:118.50px;top:222.00px;transform:scaleX(1.0976);">TF-IDF</div>
<div class="l" style="left:118.50px;top:240.00px;transform:scaleX(1.0600);">ClincialBERT</div>
<div class="l" style="left:234.14px;top:222.00px;word-spacing:1.06px;transform:scaleX(1.0200);">0.95</div>
<div class="l" style="left:234.14px;top:240.00px;word-spacing:1.06px;transform:scaleX(1.0200);">0.98</div>
<div class="l" style="left:306.34px;top:222.00px;word-spacing:1.06px;transform:scaleX(1.0200);">0.84</div>
<div class="l" style="left:306.34px;top:240.00px;word-spacing:1.06px;transform:scaleX(1.0200);">0.93</div>
<div class="l" style="left:399.54px;top:222.00px;word-spacing:1.06px;transform:scaleX(1.0200);">0.83</div>
<div class="l" style="left:399.54px;top:240.00px;word-spacing:1.06px;transform:scaleX(1.0200);">0.91</div>
<div class="l" style="left:496.34px;top:222.00px;word-spacing:1.06px;transform:scaleX(1.0200);">0.92</div>
<div class="l" style="left:496.34px;top:240.00px;word-spacing:1.06px;transform:scaleX(1.0200);">0.96</div>
<div class="l" style="left:588.54px;top:222.00px;word-spacing:1.06px;transform:scaleX(1.0200);">0.84</div>
<div class="l" style="left:588.54px;top:240.00px;word-spacing:1.06px;transform:scaleX(1.0200);">0.93</div>
<div class="l" style="left:678.54px;top:222.00px;word-spacing:1.06px;transform:scaleX(1.0200);">0.81</div>
<div class="l" style="left:678.54px;top:240.00px;word-spacing:1.06px;transform:scaleX(1.0200);">0.92</div>
<div class="l" style="left:782.34px;top:222.00px;word-spacing:1.06px;transform:scaleX(1.0200);">0.84</div>
<div class="l" style="left:782.34px;top:240.00px;word-spacing:1.06px;transform:scaleX(1.0200);">0.93</div>
<div class="l b" style="left:109.00px;top:294.00px;font-size:18.11px;word-spacing:1.27px;transform:scaleX(1.1200);">4.&nbsp; Methodology</div>
<div class="l" style="left:109.00px;top:326.00px;word-spacing:-0.36px;transform:scaleX(1.1000);">We developed two NLP models for the classification</div>
<div class="l" style="left:109.00px;top:344.00px;word-spacing:1.06px;transform:scaleX(1.0872);">task and compared them to each other.</div>
<div class="l b" style="left:109.00px;top:373.00px;word-spacing:1.06px;transform:scaleX(1.2015);">(1) Logistic Regression with TF-IDF Vectors</div>
<div class="l" style="left:109.00px;top:391.00px;word-spacing:-0.22px;transform:scaleX(1.1000);">We performed TF-IDF (term frequency-inverse doc-</div>
<div class="l" style="left:109.00px;top:409.00px;word-spacing:0.20px;transform:scaleX(1.1000);">ument frequency) vectorization on the annotated se-</div>
<div class="l" style="left:109.00px;top:427.00px;word-spacing:-0.86px;transform:scaleX(1.1000);">quences and selected features based on a term’s Pear-</div>
<div class="l" style="left:109.00px;top:445.00px;word-spacing:-0.55px;transform:scaleX(1.1000);">son correlation coefficient with the cognitive impair-</div>
<div class="l" style="left:109.00px;top:463.00px;word-spacing:1.79px;transform:scaleX(1.1000);">ment outcome.&nbsp; L1 Regularized logistic regression</div>
<div class="l" style="left:109.00px;top:481.00px;word-spacing:2.57px;transform:scaleX(1.1000);">(<a>Tibshirani</a>, <a>1996</a>) was applied with the annotated</div>
<div class="l" style="left:109.00px;top:499.00px;word-spacing:0.25px;transform:scaleX(1.1000);">cognitive impairment labels.&nbsp; We used 10-fold cross</div>
<div class="l" style="left:109.00px;top:517.00px;word-spacing:-0.97px;transform:scaleX(1.1000);">validation to determine the optimal lambda value and</div>
<div class="l" style="left:109.00px;top:535.00px;word-spacing:1.06px;transform:scaleX(1.0638);">correlation coefficient threshold to select features.</div>
<div class="l b" style="left:109.00px;top:564.00px;word-spacing:1.06px;transform:scaleX(1.1369);">(2) Transformer Based Sequence Classification</div>
<div class="l" style="left:109.00px;top:583.00px;word-spacing:2.04px;transform:scaleX(1.1000);"><b>Language Model</b><span class="q"></span>We utilized a pre-trained lan-</div>
<div class="l" style="left:109.00px;top:601.00px;word-spacing:0.94px;transform:scaleX(1.1000);">guage model called ClinicalBERT (<a>Alsentzer et al.</a>,</div>
<div class="l" style="left:109.00px;top:619.00px;word-spacing:1.55px;transform:scaleX(1.1000);"><a>2019</a>), which was trained on the MIMIC II (<a>Saeed</a></div>
<div class="l" style="left:109.00px;top:637.00px;word-spacing:0.78px;transform:scaleX(1.1000);"><a>et al.</a>, <a>2011</a>) database containing EHR records from</div>
<div class="l" style="left:109.00px;top:655.00px;word-spacing:2.26px;transform:scaleX(1.1000);">ICU patients.&nbsp; We used the implementation in the</div>
<div class="l" style="left:109.00px;top:673.00px;word-spacing:2.20px;transform:scaleX(1.1000);">Huggingface Transformers (<a>Wolf et al.</a>, <a>2019</a>) and</div>
<div class="l" style="left:109.00px;top:691.00px;word-spacing:-0.97px;transform:scaleX(1.1000);">Simpletransformers (<a>Rajapakse</a>, <a>2020</a>) packages. Af-</div>
<div class="l" style="left:109.00px;top:709.00px;word-spacing:3.19px;transform:scaleX(1.1000);">ter text preprocessing, input texts were tokenized</div>
<div class="l" style="left:109.00px;top:727.00px;word-spacing:1.06px;transform:scaleX(1.1000);">with the default tokenizer and converted to embed-</div>
<div class="l" style="left:109.00px;top:745.00px;word-spacing:2.12px;transform:scaleX(1.1000);">dings.&nbsp; The model was initialized with pre-trained</div>
<div class="l" style="left:109.00px;top:764.00px;word-spacing:0.11px;transform:scaleX(1.1000);">parameters and later fine-tuned on our labeled train-</div>
<div class="l" style="left:109.00px;top:782.00px;word-spacing:2.41px;transform:scaleX(1.1000);">ing set.&nbsp; Optuna (<a>Akiba et al.</a>, <a>2019</a>) was used to</div>
<div class="l" style="left:109.00px;top:800.00px;word-spacing:1.35px;transform:scaleX(1.1000);">perform a 20-trial study and tune the learning rate,</div>
<div class="l" style="left:109.00px;top:818.00px;word-spacing:-0.53px;transform:scaleX(1.1000);">Adam epilson, and the number of train epochs on the</div>
<div class="l" style="left:109.00px;top:836.00px;word-spacing:1.12px;transform:scaleX(1.1000);">held-out validation set to maximize AUC. An early</div>
<div class="l" style="left:109.00px;top:854.00px;word-spacing:0.45px;transform:scaleX(1.1000);">stopping rule was used to prevent overfitting by en-</div>
<div class="l" style="left:109.00px;top:872.00px;word-spacing:-0.58px;transform:scaleX(1.1000);">suring that training stopped if the loss did not change</div>
<div class="l" style="left:109.00px;top:890.00px;word-spacing:1.06px;transform:scaleX(1.0622);">substantially over 3 epochs.</div>
<div class="l b" style="left:109.00px;top:938.00px;font-size:18.11px;word-spacing:1.27px;transform:scaleX(1.1163);">5.&nbsp; Results</div>
<div class="l" style="left:109.00px;top:969.00px;word-spacing:1.72px;transform:scaleX(1.1000);">We evaluated each model based on sequence level</div>
<div class="l" style="left:109.00px;top:987.00px;word-spacing:-1.06px;transform:scaleX(1.0784);">class assignments. Model performance for each model</div>
<div class="l" style="left:109.00px;top:1005.00px;word-spacing:-0.72px;transform:scaleX(1.1000);">on the held-out test set are shown in Table <a>2</a>. To com-</div>
<div class="l" style="left:109.00px;top:1023.00px;word-spacing:1.98px;transform:scaleX(1.1000);">pute each metric, we used the threshold that max-</div>
<div class="l" style="left:109.00px;top:1041.00px;word-spacing:2.30px;transform:scaleX(1.1000);">imized accuracy.&nbsp; The TF-IDF model achieved an</div>
<div class="l" style="left:109.00px;top:1060.00px;word-spacing:1.35px;transform:scaleX(1.1000);">AUC of 0.95 and accuracy of 0.84.&nbsp; The 20 words</div>
<div class="l" style="left:458.92px;top:1106.00px;word-spacing:1.06px;transform:scaleX(1.0800);">3</div>
<div class="l" style="left:471.30px;top:296.00px;word-spacing:-1.06px;transform:scaleX(1.0843);">with the highest correlation coefficients using TF-IDF</div>
<div class="l" style="left:471.30px;top:314.00px;word-spacing:0.20px;transform:scaleX(1.1000);">word vectorization are shown in Appendix <a>E</a>. While</div>
<div class="l" style="left:471.30px;top:332.00px;word-spacing:1.11px;transform:scaleX(1.1000);">TF-IDF was able to identify the presence of a key-</div>
<div class="l" style="left:471.30px;top:350.00px;word-spacing:-1.06px;transform:scaleX(1.0985);">word or always pattern in a sequence, it was unable to</div>
<div class="l" style="left:471.30px;top:368.00px;word-spacing:-0.91px;transform:scaleX(1.1000);">the leverage the context around each keyword match.</div>
<div class="l" style="left:471.30px;top:386.00px;word-spacing:1.29px;transform:scaleX(1.1000);">The context of the keywords and the agents within</div>
<div class="l" style="left:471.30px;top:404.00px;word-spacing:1.31px;transform:scaleX(1.1000);">the sentence often contained useful information re-</div>
<div class="l" style="left:471.30px;top:422.00px;word-spacing:2.13px;transform:scaleX(1.1000);">garding a patient’s cognitive status.&nbsp; For example,</div>
<div class="l" style="left:471.30px;top:440.00px;word-spacing:1.19px;transform:scaleX(1.1000);">the sentence ”Patient is caregiver for wife who has</div>
<div class="l" style="left:471.30px;top:459.00px;word-spacing:1.48px;transform:scaleX(1.1000);">dementia” has the keyword dementia, but does not</div>
<div class="l" style="left:471.30px;top:477.00px;word-spacing:0.56px;transform:scaleX(1.1000);">pertain to the patient’s cognitive diagnosis. This led</div>
<div class="l" style="left:471.30px;top:495.00px;word-spacing:0.02px;transform:scaleX(1.1000);">the baseline TF-IDF model to incorrectly predict se-</div>
<div class="l" style="left:471.30px;top:513.00px;word-spacing:-0.44px;transform:scaleX(1.1000);">quences as evidence of cognitive impairment, result-</div>
<div class="l" style="left:471.30px;top:531.00px;word-spacing:1.06px;transform:scaleX(1.0483);">ing in a large count of false positives.</div>
<div class="l" style="left:471.30px;top:604.00px;word-spacing:1.06px;transform:scaleX(1.0459);">Figure 1:</div>
<div class="l" style="left:538.30px;top:604.00px;word-spacing:-0.16px;transform:scaleX(1.1000);">UMAP Clustering of ClinicalBert Embed-</div>
<div class="l" style="left:538.30px;top:622.00px;word-spacing:1.06px;transform:scaleX(1.0800);">dings</div>
<div class="l" style="left:486.90px;top:1005.00px;word-spacing:-0.95px;transform:scaleX(1.1000);">ClinicalBERT, with its more complex architecture,</div>
<div class="l" style="left:471.30px;top:1023.00px;word-spacing:3.39px;transform:scaleX(1.1000);">was able to leverage the context of the keyword</div>
<div class="l" style="left:471.30px;top:1042.00px;word-spacing:-0.85px;transform:scaleX(1.1000);">matches within the sequences and overcome these is-</div>
<div class="l" style="left:471.30px;top:1060.00px;word-spacing:0.54px;transform:scaleX(1.1000);">sues.&nbsp; Indeed, using a small dataset of manually an-</div>
<div class="ru" style="left:109.00px;top:182.90px;width:743.80px;height:1.40px;background:#000"></div>
<div class="ru" style="left:109.00px;top:209.15px;width:743.80px;height:0.90px;background:#000"></div>
<div class="ru" style="left:109.00px;top:252.70px;width:743.80px;height:1.40px;background:#000"></div>
<svg class="fig" style="left:0;top:0" width="927" height="1200" viewBox="0 0 927 1200" font-family="Liberation Sans, sans-serif">
<rect x="499.8" y="646.9" width="249.3" height="303.7" fill="#fff" stroke="#333" stroke-width="1.1"/>
<circle cx="561.3" cy="660.9" r="2.65" fill="#12b33c"/>
<circle cx="563.2" cy="663.6" r="2.65" fill="#12b33c"/>
<circle cx="566.1" cy="662.0" r="2.65" fill="#12b33c"/>
<circle cx="568.5" cy="665.2" r="2.65" fill="#12b33c"/>
<circle cx="570.2" cy="664.1" r="2.65" fill="#12b33c"/>
<circle cx="572.6" cy="666.3" r="2.65" fill="#12b33c"/>
<circle cx="571.5" cy="669.0" r="2.65" fill="#12b33c"/>
<circle cx="568.0" cy="669.5" r="2.65" fill="#12b33c"/>
<circle cx="565.3" cy="671.7" r="2.65" fill="#12b33c"/>
<circle cx="562.6" cy="671.2" r="2.65" fill="#12b33c"/>
<circle cx="564.8" cy="675.5" r="2.65" fill="#12b33c"/>
<circle cx="569.9" cy="672.8" r="2.65" fill="#12b33c"/>
<circle cx="573.4" cy="677.6" r="2.65" fill="#12b33c"/>
<circle cx="576.6" cy="677.1" r="2.65" fill="#12b33c"/>
<circle cx="579.3" cy="677.1" r="2.65" fill="#12b33c"/>
<circle cx="582.0" cy="671.7" r="2.65" fill="#12b33c"/>
<circle cx="584.2" cy="669.0" r="2.65" fill="#12b33c"/>
<circle cx="567.2" cy="667.4" r="2.65" fill="#12b33c"/>
<circle cx="580.2" cy="700.3" r="2.65" fill="#12b33c"/>
<circle cx="582.0" cy="701.9" r="2.65" fill="#12b33c"/>
<circle cx="581.2" cy="705.7" r="2.65" fill="#12b33c"/>
<circle cx="582.6" cy="711.1" r="2.65" fill="#12b33c"/>
<circle cx="589.6" cy="702.5" r="2.65" fill="#12b33c"/>
<circle cx="592.8" cy="696.5" r="2.65" fill="#12b33c"/>
<circle cx="595.0" cy="698.7" r="2.65" fill="#12b33c"/>
<circle cx="598.2" cy="699.8" r="2.65" fill="#12b33c"/>
<circle cx="600.4" cy="702.5" r="2.65" fill="#12b33c"/>
<circle cx="595.0" cy="705.7" r="2.65" fill="#12b33c"/>
<circle cx="596.1" cy="710.0" r="2.65" fill="#12b33c"/>
<circle cx="594.7" cy="711.4" r="2.65" fill="#12b33c"/>
<circle cx="602.8" cy="705.7" r="2.65" fill="#12b33c"/>
<circle cx="606.3" cy="691.1" r="2.65" fill="#12b33c"/>
<circle cx="607.4" cy="696.5" r="2.65" fill="#12b33c"/>
<circle cx="609.6" cy="698.7" r="2.65" fill="#12b33c"/>
<circle cx="612.3" cy="700.8" r="2.65" fill="#12b33c"/>
<circle cx="616.6" cy="692.8" r="2.65" fill="#12b33c"/>
<circle cx="616.0" cy="704.1" r="2.65" fill="#12b33c"/>
<circle cx="619.3" cy="702.5" r="2.65" fill="#12b33c"/>
<circle cx="620.4" cy="698.7" r="2.65" fill="#12b33c"/>
<circle cx="622.5" cy="696.0" r="2.65" fill="#12b33c"/>
<circle cx="625.2" cy="693.8" r="2.65" fill="#12b33c"/>
<circle cx="627.9" cy="688.4" r="2.65" fill="#12b33c"/>
<circle cx="629.0" cy="696.0" r="2.65" fill="#12b33c"/>
<circle cx="630.1" cy="697.1" r="2.65" fill="#12b33c"/>
<circle cx="633.3" cy="688.4" r="2.65" fill="#12b33c"/>
<circle cx="511.3" cy="805.4" r="2.65" fill="#f0776c"/>
<circle cx="515.4" cy="807.3" r="2.65" fill="#f0776c"/>
<circle cx="517.8" cy="808.4" r="2.65" fill="#f0776c"/>
<circle cx="523.2" cy="811.0" r="2.65" fill="#f0776c"/>
<circle cx="525.9" cy="812.1" r="2.65" fill="#f0776c"/>
<circle cx="528.6" cy="813.5" r="2.65" fill="#f0776c"/>
<circle cx="664.9" cy="824.0" r="2.65" fill="#f0776c"/>
<circle cx="666.2" cy="826.2" r="2.65" fill="#f0776c"/>
<circle cx="667.9" cy="825.1" r="2.65" fill="#f0776c"/>
<circle cx="629.8" cy="845.3" r="2.65" fill="#f0776c"/>
<circle cx="632.8" cy="844.0" r="2.65" fill="#f0776c"/>
<circle cx="635.5" cy="845.1" r="2.65" fill="#f0776c"/>
<circle cx="656.8" cy="841.3" r="2.65" fill="#f0776c"/>
<circle cx="658.1" cy="843.4" r="2.65" fill="#f0776c"/>
<circle cx="661.6" cy="845.3" r="2.65" fill="#f0776c"/>
<circle cx="662.5" cy="847.2" r="2.65" fill="#f0776c"/>
<circle cx="665.7" cy="842.9" r="2.65" fill="#f0776c"/>
<circle cx="668.9" cy="842.4" r="2.65" fill="#f0776c"/>
<circle cx="669.7" cy="846.1" r="2.65" fill="#f0776c"/>
<circle cx="667.9" cy="847.8" r="2.65" fill="#f0776c"/>
<circle cx="673.8" cy="853.7" r="2.65" fill="#f0776c"/>
<circle cx="677.8" cy="854.2" r="2.65" fill="#f0776c"/>
<circle cx="679.2" cy="851.0" r="2.65" fill="#f0776c"/>
<circle cx="681.9" cy="850.4" r="2.65" fill="#f0776c"/>
<circle cx="684.6" cy="852.1" r="2.65" fill="#f0776c"/>
<circle cx="685.1" cy="843.4" r="2.65" fill="#f0776c"/>
<circle cx="689.4" cy="841.3" r="2.65" fill="#f0776c"/>
<circle cx="693.2" cy="838.6" r="2.65" fill="#f0776c"/>
<circle cx="695.4" cy="845.3" r="2.65" fill="#f0776c"/>
<circle cx="699.4" cy="846.7" r="2.65" fill="#f0776c"/>
<circle cx="692.1" cy="853.7" r="2.65" fill="#f0776c"/>
<circle cx="696.2" cy="854.2" r="2.65" fill="#f0776c"/>
<circle cx="697.5" cy="851.5" r="2.65" fill="#f0776c"/>
<circle cx="706.2" cy="850.4" r="2.65" fill="#f0776c"/>
<circle cx="711.6" cy="839.1" r="2.65" fill="#f0776c"/>
<circle cx="713.7" cy="840.2" r="2.65" fill="#f0776c"/>
<circle cx="714.8" cy="845.1" r="2.65" fill="#f0776c"/>
<circle cx="715.6" cy="842.9" r="2.65" fill="#f0776c"/>
<circle cx="720.2" cy="842.6" r="2.65" fill="#f0776c"/>
<circle cx="696.7" cy="858.0" r="2.65" fill="#619cf5"/>
<circle cx="673.8" cy="884.5" r="2.65" fill="#619cf5"/>
<circle cx="671.6" cy="890.4" r="2.65" fill="#619cf5"/>
<circle cx="683.2" cy="884.5" r="2.65" fill="#619cf5"/>
<circle cx="681.1" cy="887.7" r="2.65" fill="#619cf5"/>
<circle cx="684.0" cy="890.9" r="2.65" fill="#619cf5"/>
<circle cx="688.6" cy="886.3" r="2.65" fill="#619cf5"/>
<circle cx="698.1" cy="887.7" r="2.65" fill="#619cf5"/>
<circle cx="681.1" cy="897.1" r="2.65" fill="#619cf5"/>
<circle cx="689.4" cy="893.6" r="2.65" fill="#619cf5"/>
<circle cx="692.1" cy="897.9" r="2.65" fill="#619cf5"/>
<circle cx="665.2" cy="902.8" r="2.65" fill="#619cf5"/>
<circle cx="668.4" cy="904.4" r="2.65" fill="#619cf5"/>
<circle cx="673.0" cy="907.1" r="2.65" fill="#619cf5"/>
<circle cx="681.1" cy="902.0" r="2.65" fill="#619cf5"/>
<circle cx="681.9" cy="904.7" r="2.65" fill="#619cf5"/>
<circle cx="684.6" cy="906.0" r="2.65" fill="#619cf5"/>
<circle cx="690.8" cy="901.7" r="2.65" fill="#619cf5"/>
<circle cx="693.5" cy="906.0" r="2.65" fill="#619cf5"/>
<circle cx="690.0" cy="908.7" r="2.65" fill="#619cf5"/>
<circle cx="688.9" cy="913.6" r="2.65" fill="#619cf5"/>
<circle cx="692.1" cy="914.7" r="2.65" fill="#619cf5"/>
<circle cx="694.8" cy="912.0" r="2.65" fill="#619cf5"/>
<circle cx="698.1" cy="915.2" r="2.65" fill="#619cf5"/>
<circle cx="695.4" cy="934.4" r="2.65" fill="#619cf5"/>
<circle cx="697.3" cy="929.8" r="2.65" fill="#619cf5"/>
<circle cx="699.7" cy="932.5" r="2.65" fill="#619cf5"/>
<circle cx="704.8" cy="930.3" r="2.65" fill="#619cf5"/>
<circle cx="707.0" cy="929.5" r="2.65" fill="#619cf5"/>
<circle cx="709.7" cy="932.5" r="2.65" fill="#619cf5"/>
<circle cx="716.4" cy="930.3" r="2.65" fill="#619cf5"/>
<circle cx="718.3" cy="927.6" r="2.65" fill="#619cf5"/>
<circle cx="719.9" cy="924.4" r="2.65" fill="#619cf5"/>
<circle cx="722.4" cy="925.7" r="2.65" fill="#619cf5"/>
<circle cx="724.5" cy="927.6" r="2.65" fill="#619cf5"/>
<circle cx="725.6" cy="930.9" r="2.65" fill="#619cf5"/>
<circle cx="728.3" cy="932.2" r="2.65" fill="#619cf5"/>
<circle cx="733.2" cy="933.6" r="2.65" fill="#619cf5"/>
<circle cx="733.7" cy="936.8" r="2.65" fill="#619cf5"/>
<circle cx="738.0" cy="935.2" r="2.65" fill="#619cf5"/>
<line x1="497.2" x2="499.8" y1="660.3" y2="660.3" stroke="#333" stroke-width="1"/>
<text x="495.3" y="663.3" font-size="8.9" fill="#4d4d4d" text-anchor="end">10</text>
<line x1="497.2" x2="499.8" y1="736.0" y2="736.0" stroke="#333" stroke-width="1"/>
<text x="495.3" y="739.0" font-size="8.9" fill="#4d4d4d" text-anchor="end">5</text>
<line x1="497.2" x2="499.8" y1="811.8" y2="811.8" stroke="#333" stroke-width="1"/>
<text x="495.3" y="814.8" font-size="8.9" fill="#4d4d4d" text-anchor="end">0</text>
<line x1="497.2" x2="499.8" y1="887.6" y2="887.6" stroke="#333" stroke-width="1"/>
<text x="495.3" y="890.6" font-size="8.9" fill="#4d4d4d" text-anchor="end">−5</text>
<line y1="950.6" y2="953.3" x1="523.6" x2="523.6" stroke="#333" stroke-width="1"/>
<text y="962.4" x="523.6" font-size="8.9" fill="#4d4d4d" text-anchor="middle">−4</text>
<line y1="950.6" y2="953.3" x1="584.8" x2="584.8" stroke="#333" stroke-width="1"/>
<text y="962.4" x="584.8" font-size="8.9" fill="#4d4d4d" text-anchor="middle">−2</text>
<line y1="950.6" y2="953.3" x1="646.0" x2="646.0" stroke="#333" stroke-width="1"/>
<text y="962.4" x="646.0" font-size="8.9" fill="#4d4d4d" text-anchor="middle">0</text>
<line y1="950.6" y2="953.3" x1="707.1" x2="707.1" stroke="#333" stroke-width="1"/>
<text y="962.4" x="707.1" font-size="8.9" fill="#4d4d4d" text-anchor="middle">2</text>
<text x="624.3" y="975.6" font-size="10.4" font-weight="bold" text-anchor="middle">UMAP1</text>
<text transform="translate(478.6,799) rotate(-90)" font-size="10.4" font-weight="bold" text-anchor="middle">UMAP2</text>
<text x="759.2" y="774.8" font-size="11" font-weight="bold">Labels</text>
<circle cx="767.2" cy="790.6" r="2.65" fill="#12b33c"/>
<text x="778.3" y="793.9" font-size="9.3" font-weight="bold" fill="#12b33c">No CI</text>
<circle cx="767.2" cy="807.1" r="2.65" fill="#619cf5"/>
<text x="778.3" y="810.4" font-size="9.3" font-weight="bold" fill="#619cf5">Neither</text>
<circle cx="767.2" cy="823.6" r="2.65" fill="#f0776c"/>
<text x="778.3" y="826.9" font-size="9.3" font-weight="bold" fill="#f0776c">CI</text>
</svg>
</div>
<div class="pg" style="left:2781px">
<div class="l sc" style="left:288.00px;top:69.00px;font-size:13.58px;word-spacing:0.95px;transform:scaleX(1.1135);">NLP Techniques to Detect Cognitive Impairment</div>
<div class="l" style="left:109.00px;top:148.00px;word-spacing:1.16px;transform:scaleX(1.1000);">notated sequences (n=150) which did not match an</div>
<div class="l" style="left:109.00px;top:166.00px;word-spacing:0.48px;transform:scaleX(1.1000);">always-pattern, the ClinicalBERT embeddings were</div>
<div class="l" style="left:109.00px;top:184.00px;word-spacing:-0.72px;transform:scaleX(1.1000);">able to able accurately discriminate between all three</div>
<div class="l" style="left:109.00px;top:202.00px;word-spacing:-0.51px;transform:scaleX(1.1000);">classes (see Figure <a>1</a>).&nbsp; The fine-tuned ClinicalBERT</div>
<div class="l" style="left:109.00px;top:220.00px;word-spacing:-1.06px;transform:scaleX(1.0968);">model achieved an AUC of 0.98 and substantially im-</div>
<div class="l" style="left:109.00px;top:238.00px;word-spacing:-0.91px;transform:scaleX(1.1000);">proved accuracy to 0.93 (specificity of 0.96, sensitiv-</div>
<div class="l" style="left:109.00px;top:256.00px;word-spacing:0.29px;transform:scaleX(1.1000);">ity of 0.91, micro F1 of 0.93, macro F1 of 0.92, and</div>
<div class="l" style="left:109.00px;top:275.00px;word-spacing:1.06px;transform:scaleX(1.0433);">weighted F1 of 0.93).</div>
<div class="l" style="left:124.60px;top:293.00px;word-spacing:-1.06px;transform:scaleX(1.0917);">In order to generate patient level class assignments,</div>
<div class="l" style="left:109.00px;top:311.00px;word-spacing:1.43px;transform:scaleX(1.1000);">we applied ClinicalBERT to all 186,730 sequences</div>
<div class="l" style="left:109.00px;top:329.00px;word-spacing:-0.95px;transform:scaleX(1.1000);">from the N = 13,941 unique patients that were not pa-</div>
<div class="l" style="left:109.00px;top:347.00px;word-spacing:2.36px;transform:scaleX(1.1000);">tient of our training/validation/set sets. With these</div>
<div class="l" style="left:109.00px;top:365.00px;word-spacing:-1.06px;transform:scaleX(1.0899);">sequence level predictions, we generated patient level</div>
<div class="l" style="left:109.00px;top:383.00px;word-spacing:1.30px;transform:scaleX(1.1000);">class assignments by assigning patients a cognitive</div>
<div class="l" style="left:109.00px;top:401.00px;word-spacing:1.30px;transform:scaleX(1.1000);">impairment label if their number of sequences pre-</div>
<div class="l" style="left:109.00px;top:419.00px;word-spacing:-0.49px;transform:scaleX(1.1000);">dicted positive was greater than an empirically tuned</div>
<div class="l" style="left:109.00px;top:438.00px;word-spacing:0.92px;transform:scaleX(1.1000);">threshold. We identified the most optimal threshold</div>
<div class="l" style="left:109.00px;top:456.00px;word-spacing:1.04px;transform:scaleX(1.1000);">(from a range of 1 - 10) by comparing the percent-</div>
<div class="l" style="left:109.00px;top:474.00px;word-spacing:1.30px;transform:scaleX(1.1000);">age of patients being predicted as having cognitive</div>
<div class="l" style="left:109.00px;top:492.00px;word-spacing:0.18px;transform:scaleX(1.1000);">impairment stratified by <i>APOE</i> allele to the percent-</div>
<div class="l" style="left:109.00px;top:510.00px;word-spacing:2.14px;transform:scaleX(1.1000);">ages of patients with cognitive impairment related</div>
<div class="l" style="left:109.00px;top:528.00px;word-spacing:-0.54px;transform:scaleX(1.1000);">Meds/ICD codes stratified by <i>APOE</i> allele (M/I code</div>
<div class="l" style="left:109.00px;top:546.00px;word-spacing:2.65px;transform:scaleX(1.1000);">column in Table <a>3</a>).&nbsp; Table <a>3</a> shows the compari-</div>
<div class="l" style="left:109.00px;top:564.00px;word-spacing:-0.57px;transform:scaleX(1.1000);">son of Med/ICD codes to ClinicalBERT patient level</div>
<div class="l" style="left:109.00px;top:582.00px;word-spacing:-0.33px;transform:scaleX(1.1000);">class assignments with a sequence threshold of 2. As</div>
<div class="l" style="left:109.00px;top:601.00px;word-spacing:0.45px;transform:scaleX(1.1000);">shown, ClinicalBERT was able to identify a signifi-</div>
<div class="l" style="left:109.00px;top:619.00px;word-spacing:1.18px;transform:scaleX(1.1000);">cant proportion of patients that went undetected by</div>
<div class="l" style="left:109.00px;top:637.00px;word-spacing:1.65px;transform:scaleX(1.1000);">current clinical methods, highlighting the utility of</div>
<div class="l" style="left:109.00px;top:655.00px;word-spacing:1.06px;transform:scaleX(1.0696);">such a tool in a clinical setting.</div>
<div class="l" style="left:109.00px;top:710.00px;word-spacing:1.06px;transform:scaleX(1.0534);">Table 3:</div>
<div class="l" style="left:170.30px;top:710.00px;word-spacing:3.31px;transform:scaleX(1.1000);">Comparison between Other Indicators of</div>
<div class="l" style="left:170.30px;top:728.00px;word-spacing:1.06px;transform:scaleX(1.0758);">Cognitive Impairment and ClinicalBERT</div>
<div class="l b" style="left:188.00px;top:781.00px;font-size:12.07px;transform:scaleX(1.1495);">Count</div>
<div class="l b" style="left:239.20px;top:781.00px;font-size:12.07px;word-spacing:0.84px;transform:scaleX(1.1597);">Yes (%)</div>
<div class="l b" style="left:301.95px;top:781.00px;font-size:12.07px;word-spacing:0.84px;transform:scaleX(1.2099);">No/Ntr (%)</div>
<div class="l b" style="left:388.15px;top:781.00px;font-size:12.07px;word-spacing:0.84px;transform:scaleX(1.2099);">M/I (%)</div>
<div class="l b" style="left:117.80px;top:801.00px;font-size:12.07px;word-spacing:0.84px;transform:scaleX(1.2466);"><i>APOE ε</i>2</div>
<div class="l" style="left:193.83px;top:801.00px;font-size:12.07px;word-spacing:0.84px;transform:scaleX(1.0500);">1754</div>
<div class="l" style="left:252.12px;top:801.00px;font-size:12.07px;word-spacing:0.84px;transform:scaleX(1.0500);">0.17</div>
<div class="l" style="left:327.12px;top:801.00px;font-size:12.07px;word-spacing:0.84px;transform:scaleX(1.0500);">0.83</div>
<div class="l" style="left:403.55px;top:801.00px;font-size:12.07px;word-spacing:0.84px;transform:scaleX(1.0500);">0.11</div>
<div class="l b" style="left:117.80px;top:816.00px;font-size:12.07px;word-spacing:0.84px;transform:scaleX(1.2466);"><i>APOE ε</i>3</div>
<div class="l" style="left:193.83px;top:816.00px;font-size:12.07px;word-spacing:0.84px;transform:scaleX(1.0500);">8751</div>
<div class="l" style="left:252.12px;top:816.00px;font-size:12.07px;word-spacing:0.84px;transform:scaleX(1.0500);">0.17</div>
<div class="l" style="left:327.12px;top:816.00px;font-size:12.07px;word-spacing:0.84px;transform:scaleX(1.0500);">0.83</div>
<div class="l" style="left:403.55px;top:816.00px;font-size:12.07px;word-spacing:0.84px;transform:scaleX(1.0500);">0.11</div>
<div class="l b" style="left:117.80px;top:830.00px;font-size:12.07px;word-spacing:0.84px;transform:scaleX(1.2466);"><i>APOE ε</i>4</div>
<div class="l" style="left:193.83px;top:830.00px;font-size:12.07px;word-spacing:0.84px;transform:scaleX(1.0500);">3436</div>
<div class="l" style="left:252.12px;top:830.00px;font-size:12.07px;word-spacing:0.84px;transform:scaleX(1.0500);">0.21</div>
<div class="l" style="left:327.12px;top:830.00px;font-size:12.07px;word-spacing:0.84px;transform:scaleX(1.0500);">0.79</div>
<div class="l" style="left:403.32px;top:830.00px;font-size:12.07px;word-spacing:0.84px;transform:scaleX(1.0500);">0.17</div>
<div class="l b" style="left:109.00px;top:849.00px;word-spacing:1.06px;transform:scaleX(1.2499);">M/I = Med/ICD Code</div>
<div class="l b" style="left:109.00px;top:920.00px;font-size:18.11px;word-spacing:1.27px;transform:scaleX(1.1107);">6.&nbsp; Conclusion and Future Work</div>
<div class="l" style="left:109.00px;top:951.00px;word-spacing:-0.01px;transform:scaleX(1.1000);">We applied NLP algorithms to identify patients with</div>
<div class="l" style="left:109.00px;top:969.00px;word-spacing:0.22px;transform:scaleX(1.1000);">cognitive impairment in EHR and compared a base-</div>
<div class="l" style="left:109.00px;top:987.00px;word-spacing:3.61px;transform:scaleX(1.1000);">line TF-IDF model with an attention based deep</div>
<div class="l" style="left:109.00px;top:1005.00px;word-spacing:-1.06px;transform:scaleX(1.0708);">learning model on performance of sequence level class</div>
<div class="l" style="left:109.00px;top:1023.00px;word-spacing:0.52px;transform:scaleX(1.1000);">assignment predictions.&nbsp; Our work can help address</div>
<div class="l" style="left:109.00px;top:1041.00px;word-spacing:3.12px;transform:scaleX(1.1000);">the underdiagnosis of dementia and alert primary</div>
<div class="l" style="left:109.00px;top:1060.00px;word-spacing:-0.59px;transform:scaleX(1.1000);">care physcians to do a formal cognitive evaluation or</div>
<div class="l" style="left:458.92px;top:1106.00px;word-spacing:1.06px;transform:scaleX(1.0800);">4</div>
<div class="l" style="left:471.30px;top:164.00px;word-spacing:1.06px;transform:scaleX(1.0459);">Figure 2:</div>
<div class="l" style="left:538.30px;top:164.00px;word-spacing:-0.71px;transform:scaleX(1.1000);">Confusion Matrix Patient Level Prediction</div>
<div class="l" style="left:538.30px;top:182.00px;word-spacing:1.06px;transform:scaleX(1.0655);">Counts for ClinicalBERT</div>
<div class="l" style="left:471.30px;top:468.00px;word-spacing:0.56px;transform:scaleX(1.1000);">refer to specialists.&nbsp; Such a tool can be used to gen-</div>
<div class="l" style="left:471.30px;top:486.00px;word-spacing:1.07px;transform:scaleX(1.1000);">erate cohorts for dementia research studies to iden-</div>
<div class="l" style="left:471.30px;top:505.00px;word-spacing:-0.48px;transform:scaleX(1.1000);">tify risk and protective factors of dementia as well as</div>
<div class="l" style="left:471.30px;top:523.00px;word-spacing:0.47px;transform:scaleX(1.1000);">recruit patients into observational studies or clinical</div>
<div class="l" style="left:471.30px;top:541.00px;transform:scaleX(1.0966);">trials.</div>
<div class="l" style="left:486.90px;top:559.00px;word-spacing:1.18px;transform:scaleX(1.1000);">The deep learning model’s performance was sig-</div>
<div class="l" style="left:471.30px;top:577.00px;word-spacing:2.48px;transform:scaleX(1.1000);">nificantly better than the TF-IDF model as it was</div>
<div class="l" style="left:471.30px;top:595.00px;word-spacing:0.62px;transform:scaleX(1.1000);">able to fully leverage the context of sequences. Our</div>
<div class="l" style="left:471.30px;top:613.00px;word-spacing:-1.06px;transform:scaleX(1.0890);">work illustrates the need of more complex, expressive</div>
<div class="l" style="left:471.30px;top:631.00px;word-spacing:1.78px;transform:scaleX(1.1000);">language models for the nuanced task of detecting</div>
<div class="l" style="left:471.30px;top:649.00px;word-spacing:1.06px;transform:scaleX(1.0684);">dementia in electronic health records.</div>
<div class="l" style="left:486.90px;top:667.00px;word-spacing:1.24px;transform:scaleX(1.1000);">We used the sequence level class assignments of</div>
<div class="l" style="left:471.30px;top:686.00px;word-spacing:3.10px;transform:scaleX(1.1000);">the deep learning model to generate patient level</div>
<div class="l" style="left:471.30px;top:704.00px;word-spacing:2.24px;transform:scaleX(1.1000);">classes.&nbsp; For a few patients, we manually verified</div>
<div class="l" style="left:471.30px;top:722.00px;word-spacing:-0.98px;transform:scaleX(1.1000);">that our model can successfully identify patients with</div>
<div class="l" style="left:471.30px;top:740.00px;word-spacing:-1.06px;transform:scaleX(1.0919);">cognitive impairment who lack dementia-related ICD</div>
<div class="l" style="left:471.30px;top:758.00px;word-spacing:-1.06px;transform:scaleX(1.0862);">codes or medications in their records. However, a lack</div>
<div class="l" style="left:471.30px;top:776.00px;word-spacing:-0.81px;transform:scaleX(1.1000);">of patient level annotations prevents us from measur-</div>
<div class="l" style="left:471.30px;top:794.00px;word-spacing:2.00px;transform:scaleX(1.1000);">ing the true accuracy of these results.&nbsp; In order to</div>
<div class="l" style="left:471.30px;top:812.00px;word-spacing:0.82px;transform:scaleX(1.1000);">address this issue, we plan to generate 1000 patient</div>
<div class="l" style="left:471.30px;top:830.00px;word-spacing:-0.95px;transform:scaleX(1.1000);">level class assignments using our annotation tool. We</div>
<div class="l" style="left:471.30px;top:849.00px;word-spacing:1.54px;transform:scaleX(1.1000);">also plan to further improve the generalizability of</div>
<div class="l" style="left:471.30px;top:867.00px;word-spacing:1.08px;transform:scaleX(1.1000);">our models by labeling more sequences that do not</div>
<div class="l" style="left:471.30px;top:885.00px;word-spacing:2.08px;transform:scaleX(1.1000);">match an always pattern.&nbsp; An active learning loop</div>
<div class="l" style="left:471.30px;top:903.00px;word-spacing:-0.69px;transform:scaleX(1.1000);">will be used to pick particular patients and sequences</div>
<div class="l" style="left:471.30px;top:921.00px;word-spacing:0.35px;transform:scaleX(1.1000);">by using entropy scores to label uncertain cases and</div>
<div class="l" style="left:471.30px;top:939.00px;word-spacing:-0.18px;transform:scaleX(1.1000);">UMAP clustering (<a>McInnes et al.</a>, <a>2018</a>) of Clinical-</div>
<div class="l" style="left:471.30px;top:957.00px;word-spacing:-0.55px;transform:scaleX(1.1000);">BERT word embeddings on the sequences of the N =</div>
<div class="l" style="left:471.30px;top:975.00px;word-spacing:0.65px;transform:scaleX(1.1000);">13,941 patients. The new gold-standard dataset will</div>
<div class="l" style="left:471.30px;top:993.00px;word-spacing:0.54px;transform:scaleX(1.1000);">serve as the basis for the next iteration of the active</div>
<div class="l" style="left:471.30px;top:1012.00px;word-spacing:-0.09px;transform:scaleX(1.1000);">learning loop to further improve model performance</div>
<div class="l" style="left:471.30px;top:1030.00px;word-spacing:1.44px;transform:scaleX(1.1000);">and detect patients with cognitive impairment with</div>
<div class="l" style="left:471.30px;top:1048.00px;word-spacing:1.06px;transform:scaleX(1.0456);">improved accuracy.</div>
<div class="ru" style="left:109.00px;top:770.50px;width:338.70px;height:1.40px;background:#000"></div>
<div class="ru" style="left:109.00px;top:791.35px;width:338.70px;height:0.90px;background:#000"></div>
<div class="ru" style="left:109.00px;top:840.40px;width:338.70px;height:1.40px;background:#000"></div>
<svg class="fig" style="left:0;top:0" width="927" height="1200" viewBox="0 0 927 1200" font-family="DejaVu Sans, sans-serif" font-size="7.7" fill="#262626">
<defs><linearGradient id="bl" x1="0" y1="1" x2="0" y2="0"><stop offset="0" stop-color="#f7fbff"/><stop offset="0.125" stop-color="#deebf7"/><stop offset="0.25" stop-color="#c6dbef"/><stop offset="0.375" stop-color="#9ecae1"/><stop offset="0.5" stop-color="#6baed6"/><stop offset="0.625" stop-color="#4292c6"/><stop offset="0.75" stop-color="#2171b5"/><stop offset="0.875" stop-color="#08519c"/><stop offset="1" stop-color="#08306b"/></linearGradient></defs>
<rect x="518.5" y="230.8" width="102.9" height="84.5" fill="#08306b"/>
<rect x="621.4" y="230.8" width="105.6" height="84.5" fill="#f7fbff"/>
<rect x="518.5" y="315.3" width="102.9" height="85.1" fill="#f5faff"/>
<rect x="621.4" y="315.3" width="105.6" height="85.1" fill="#f3f8fe"/>
<rect x="740.6" y="230.8" width="7.2" height="169.6" fill="url(#bl)"/>
<text x="569.9" y="275.9" text-anchor="middle" fill="#fff">11365</text>
<text x="674.3" y="275.9" text-anchor="middle">739</text>
<text x="569.9" y="360.8" text-anchor="middle">827</text>
<text x="674.3" y="360.8" text-anchor="middle">1010</text>
<line x1="747.8" x2="750.4" y1="252.2" y2="252.2" stroke="#262626" stroke-width="0.7"/>
<text x="754.4" y="255.2">10000</text>
<line x1="747.8" x2="750.4" y1="284.2" y2="284.2" stroke="#262626" stroke-width="0.7"/>
<text x="754.4" y="287.2">8000</text>
<line x1="747.8" x2="750.4" y1="316.3" y2="316.3" stroke="#262626" stroke-width="0.7"/>
<text x="754.4" y="319.3">6000</text>
<line x1="747.8" x2="750.4" y1="348.3" y2="348.3" stroke="#262626" stroke-width="0.7"/>
<text x="754.4" y="351.3">4000</text>
<line x1="747.8" x2="750.4" y1="380.3" y2="380.3" stroke="#262626" stroke-width="0.7"/>
<text x="754.4" y="383.3">2000</text>
<line y1="400.4" y2="403.0" x1="569.9" x2="569.9" stroke="#262626" stroke-width="0.7"/>
<text x="569.9" y="412.0" text-anchor="middle">Negative</text>
<line y1="400.4" y2="403.0" x1="674.3" x2="674.3" stroke="#262626" stroke-width="0.7"/>
<text x="674.3" y="412.0" text-anchor="middle">Positive</text>
<text x="621.4" y="422.8" text-anchor="middle">Prescence of ICD Code / Medication</text>
<line x1="515.9" x2="518.5" y1="273.0" y2="273.0" stroke="#262626" stroke-width="0.7"/>
<text transform="translate(511.0,272.0) rotate(-90)" text-anchor="end" font-size="8.1">Negative</text>
<line x1="515.9" x2="518.5" y1="357.9" y2="357.9" stroke="#262626" stroke-width="0.7"/>
<text transform="translate(511.0,356.9) rotate(-90)" text-anchor="end" font-size="8.1">Positive</text>
<text transform="translate(499.6,311.2) rotate(-90)" text-anchor="middle" font-size="8.3">Predicted as having CI</text>
</svg>
</div>
<div class="pg" style="left:3708px">
<div class="l sc" style="left:288.00px;top:69.00px;font-size:13.58px;word-spacing:0.95px;transform:scaleX(1.1135);">NLP Techniques to Detect Cognitive Impairment</div>
<div class="l b" style="left:109.00px;top:146.00px;font-size:18.11px;transform:scaleX(1.1291);">References</div>
<div class="l" style="left:109.00px;top:178.00px;word-spacing:4.98px;transform:scaleX(1.1026);">Takuya Akiba, Shotaro Sano, Toshihiko Yanase,</div>
<div class="l" style="left:124.00px;top:196.00px;word-spacing:3.68px;transform:scaleX(1.1000);">Takeru Ohta, and Masanori Koyama.&nbsp; Optuna:</div>
<div class="l" style="left:124.00px;top:214.00px;word-spacing:4.92px;transform:scaleX(1.1000);">A next-generation hyperparameter optimization</div>
<div class="l" style="left:124.00px;top:232.00px;word-spacing:4.38px;transform:scaleX(1.1000);">framework.&nbsp;&nbsp; In <i>Proceedings of the 25th ACM</i></div>
<div class="l" style="left:124.00px;top:250.00px;word-spacing:4.98px;transform:scaleX(1.1102);"><i>SIGKDD international conference on knowledge</i></div>
<div class="l" style="left:124.00px;top:268.00px;word-spacing:1.06px;transform:scaleX(1.0659);"><i>discovery &amp; data mining</i>, pages 2623–2631, 2019.</div>
<div class="l" style="left:109.00px;top:302.00px;word-spacing:0.49px;transform:scaleX(1.1000);">Emily Alsentzer, John Murphy, William Boag, Wei-</div>
<div class="l" style="left:124.00px;top:320.00px;word-spacing:4.98px;transform:scaleX(1.1111);">Hung Weng, Di Jindi, Tristan Naumann, and</div>
<div class="l" style="left:124.00px;top:338.00px;word-spacing:3.70px;transform:scaleX(1.1000);">Matthew McDermott.&nbsp; Publicly available clini-</div>
<div class="l" style="left:124.00px;top:356.00px;word-spacing:4.62px;transform:scaleX(1.1000);">cal BERT embeddings.&nbsp; In <i>Proceedings of the</i></div>
<div class="l" style="left:124.00px;top:374.00px;word-spacing:3.52px;transform:scaleX(1.1000);"><i>2nd Clinical Natural Language Processing Work-</i></div>
<div class="l" style="left:124.00px;top:392.00px;word-spacing:-0.90px;transform:scaleX(1.1000);"><i>shop</i>, pages 72–78, Minneapolis, Minnesota, USA,</div>
<div class="l" style="left:124.00px;top:410.00px;word-spacing:-1.06px;transform:scaleX(1.0918);">June 2019. Association for Computational Linguis-</div>
<div class="l" style="left:124.00px;top:428.00px;word-spacing:1.40px;transform:scaleX(1.1000);">tics.&nbsp; doi: 10.18653/v1/W19-1909.&nbsp; URL <tt>https:</tt></div>
<div class="l" style="left:124.00px;top:447.00px;transform:scaleX(1.0733);"><tt>//aclanthology.org/W19-1909</tt>.</div>
<div class="l" style="left:109.00px;top:480.00px;word-spacing:-1.06px;transform:scaleX(1.0778);">AlzheimerAssociation. 2021 alzheimer’s disease facts</div>
<div class="l" style="left:124.00px;top:498.00px;word-spacing:1.06px;transform:scaleX(1.0542);">and figures. 2021.</div>
<div class="l" style="left:109.00px;top:531.00px;word-spacing:2.69px;transform:scaleX(1.1000);">Jacob Devlin, Ming-Wei Chang, Kenton Lee, and</div>
<div class="l" style="left:124.00px;top:549.00px;word-spacing:3.37px;transform:scaleX(1.1000);">Kristina Toutanova.&nbsp; Bert: Pre-training of deep</div>
<div class="l" style="left:124.00px;top:567.00px;word-spacing:4.98px;transform:scaleX(1.1114);">bidirectional transformers for language under-</div>
<div class="l" style="left:124.00px;top:586.00px;word-spacing:1.06px;transform:scaleX(1.1096);">standing. <i>arXiv preprint arXiv:1810.04805</i>, 2018.</div>
<div class="l" style="left:109.00px;top:619.00px;word-spacing:2.09px;transform:scaleX(1.1000);">Benjamin S Glicksberg, Riccardo Miotto, Kipp W</div>
<div class="l" style="left:124.00px;top:637.00px;word-spacing:0.15px;transform:scaleX(1.1000);">Johnson, Khader Shameer, Li Li, Rong Chen, and</div>
<div class="l" style="left:124.00px;top:655.00px;word-spacing:1.66px;transform:scaleX(1.1000);">Joel T Dudley.&nbsp; Automated disease cohort selec-</div>
<div class="l" style="left:124.00px;top:673.00px;word-spacing:-1.06px;transform:scaleX(1.0988);">tion using word embeddings from electronic health</div>
<div class="l" style="left:124.00px;top:691.00px;word-spacing:4.52px;transform:scaleX(1.1000);">records.&nbsp;&nbsp; In <i>PACIFIC SYMPOSIUM ON BIO-</i></div>
<div class="l" style="left:124.00px;top:709.00px;word-spacing:4.98px;transform:scaleX(1.1062);"><i>COMPUTING 2018: Proceedings of the Pacific</i></div>
<div class="l" style="left:124.00px;top:727.00px;word-spacing:-1.06px;transform:scaleX(1.0781);"><i>Symposium</i>, pages 145–156. World Scientific, 2018.</div>
<div class="l" style="left:109.00px;top:761.00px;word-spacing:-0.69px;transform:scaleX(1.1000);">Robert W Mahley and Stanley C Rall Jr. Apolipopro-</div>
<div class="l" style="left:124.00px;top:779.00px;word-spacing:0.59px;transform:scaleX(1.1000);">tein e: far more than a lipid transport protein. <i>An-</i></div>
<div class="l" style="left:124.00px;top:797.00px;word-spacing:1.23px;transform:scaleX(1.1000);"><i>nual review of genomics and human genetics</i>, 1(1):</div>
<div class="l" style="left:124.00px;top:815.00px;word-spacing:1.06px;transform:scaleX(1.0052);">507–537, 2000.</div>
<div class="l" style="left:109.00px;top:848.00px;word-spacing:2.24px;transform:scaleX(1.1000);">Leland McInnes, John Healy, and James Melville.</div>
<div class="l" style="left:124.00px;top:866.00px;word-spacing:0.09px;transform:scaleX(1.1000);">Umap: Uniform manifold approximation and pro-</div>
<div class="l" style="left:124.00px;top:884.00px;word-spacing:2.22px;transform:scaleX(1.1000);">jection for dimension reduction.&nbsp;&nbsp; <i>arXiv preprint</i></div>
<div class="l" style="left:124.00px;top:903.00px;word-spacing:1.06px;transform:scaleX(1.0791);"><i>arXiv:1802.03426</i>, 2018.</div>
<div class="l" style="left:109.00px;top:936.00px;word-spacing:1.73px;transform:scaleX(1.1000);">Tomas Mikolov, Ilya Sutskever, Kai Chen, Greg S</div>
<div class="l" style="left:124.00px;top:954.00px;word-spacing:1.87px;transform:scaleX(1.1000);">Corrado, and Jeff Dean.&nbsp; Distributed representa-</div>
<div class="l" style="left:124.00px;top:972.00px;word-spacing:0.06px;transform:scaleX(1.1000);">tions of words and phrases and their composition-</div>
<div class="l" style="left:124.00px;top:990.00px;word-spacing:1.04px;transform:scaleX(1.1000);">ality. In <i>Advances in neural information processing</i></div>
<div class="l" style="left:124.00px;top:1008.00px;word-spacing:1.06px;transform:scaleX(1.0576);"><i>systems</i>, pages 3111–3119, 2013.</div>
<div class="l" style="left:109.00px;top:1041.00px;word-spacing:3.66px;transform:scaleX(1.1000);">Jeffrey Pennington, Richard Socher, and Christo-</div>
<div class="l" style="left:124.00px;top:1060.00px;word-spacing:0.16px;transform:scaleX(1.1000);">pher D Manning.&nbsp; Glove: Global vectors for word</div>
<div class="l" style="left:458.92px;top:1106.00px;word-spacing:1.06px;transform:scaleX(1.0800);">5</div>
<div class="l" style="left:486.30px;top:148.00px;word-spacing:0.84px;transform:scaleX(1.1000);">representation.&nbsp; In <i>Proceedings of the 2014 confer-</i></div>
<div class="l" style="left:486.30px;top:166.00px;word-spacing:0.61px;transform:scaleX(1.1000);"><i>ence on empirical methods in natural language pro-</i></div>
<div class="l" style="left:486.30px;top:184.00px;word-spacing:1.06px;transform:scaleX(1.0571);"><i>cessing (EMNLP)</i>, pages 1532–1543, 2014.</div>
<div class="l" style="left:471.30px;top:214.00px;word-spacing:3.71px;transform:scaleX(1.1000);">Matthew E Peters, Mark Neumann, Mohit Iyyer,</div>
<div class="l" style="left:486.30px;top:232.00px;word-spacing:-0.52px;transform:scaleX(1.1000);">Matt Gardner, Christopher Clark, Kenton Lee, and</div>
<div class="l" style="left:486.30px;top:250.00px;word-spacing:-1.06px;transform:scaleX(1.0774);">Luke Zettlemoyer. Deep contextualized word repre-</div>
<div class="l" style="left:486.30px;top:268.00px;word-spacing:1.06px;transform:scaleX(1.0913);">sentations. <i>arXiv preprint arXiv:1802.05365</i>, 2018.</div>
<div class="l" style="left:471.30px;top:298.00px;word-spacing:0.06px;transform:scaleX(1.1000);">Thilina Rajapakse. Simple transformers, 2020. URL</div>
<div class="l" style="left:486.30px;top:317.00px;transform:scaleX(1.0650);"><tt>https://simpletransformers.ai/</tt>.</div>
<div class="l" style="left:471.30px;top:347.00px;word-spacing:1.68px;transform:scaleX(1.1000);">Alvin Rajkomar, Eyal Oren, Kai Chen, Andrew M</div>
<div class="l" style="left:486.30px;top:365.00px;word-spacing:2.34px;transform:scaleX(1.1000);">Dai, Nissan Hajaj, Michaela Hardt, Peter J Liu,</div>
<div class="l" style="left:486.30px;top:383.00px;word-spacing:-0.31px;transform:scaleX(1.1000);">Xiaobing Liu, Jake Marcus, Mimi Sun, et al. Scal-</div>
<div class="l" style="left:486.30px;top:401.00px;word-spacing:2.95px;transform:scaleX(1.1000);">able and accurate deep learning with electronic</div>
<div class="l" style="left:486.30px;top:419.00px;word-spacing:1.52px;transform:scaleX(1.1000);">health records.&nbsp; <i>NPJ Digital Medicine</i>, 1(1):1–10,</div>
<div class="l" style="left:486.30px;top:437.00px;word-spacing:1.06px;transform:scaleX(1.0800);">2018.</div>
<div class="l" style="left:471.30px;top:467.00px;word-spacing:2.11px;transform:scaleX(1.1000);">Mohammed Saeed, Mauricio Villarroel, Andrew T</div>
<div class="l" style="left:486.30px;top:485.00px;word-spacing:3.00px;transform:scaleX(1.1000);">Reisner, Gari Clifford, Li-Wei Lehman, George</div>
<div class="l" style="left:486.30px;top:504.00px;word-spacing:3.09px;transform:scaleX(1.1000);">Moody, Thomas Heldt, Tin H Kyaw, Benjamin</div>
<div class="l" style="left:486.30px;top:522.00px;word-spacing:1.76px;transform:scaleX(1.1000);">Moody, and Roger G Mark.&nbsp; Multiparameter in-</div>
<div class="l" style="left:486.30px;top:540.00px;word-spacing:-0.55px;transform:scaleX(1.1000);">telligent monitoring in intensive care ii (mimic-ii):</div>
<div class="l" style="left:486.30px;top:558.00px;word-spacing:0.79px;transform:scaleX(1.1000);">a public-access intensive care unit database. <i>Crit-</i></div>
<div class="l" style="left:486.30px;top:576.00px;word-spacing:1.06px;transform:scaleX(1.0657);"><i>ical care medicine</i>, 39(5):952, 2011.</div>
<div class="l" style="left:471.30px;top:606.00px;word-spacing:0.67px;transform:scaleX(1.1000);">Robert Tibshirani.&nbsp; Regression shrinkage and selec-</div>
<div class="l" style="left:486.30px;top:624.00px;word-spacing:1.98px;transform:scaleX(1.1000);">tion via the lasso. <i>Journal of the Royal Statistical</i></div>
<div class="l" style="left:486.30px;top:642.00px;word-spacing:0.27px;transform:scaleX(1.1000);"><i>Society: Series B (Methodological)</i>, 58(1):267–288,</div>
<div class="l" style="left:486.30px;top:660.00px;word-spacing:1.06px;transform:scaleX(1.0800);">1996.</div>
<div class="l" style="left:471.30px;top:691.00px;word-spacing:-0.06px;transform:scaleX(1.1000);">Ashish Vaswani, Noam Shazeer, Niki Parmar, Jakob</div>
<div class="l" style="left:486.30px;top:709.00px;word-spacing:1.47px;transform:scaleX(1.1000);">Uszkoreit, Llion Jones, Aidan N Gomez, Łukasz</div>
<div class="l" style="left:486.30px;top:727.00px;word-spacing:0.91px;transform:scaleX(1.1000);">Kaiser, and Illia Polosukhin.&nbsp; Attention is all you</div>
<div class="l" style="left:486.30px;top:745.00px;word-spacing:0.60px;transform:scaleX(1.1000);">need. In <i>Advances in neural information processing</i></div>
<div class="l" style="left:486.30px;top:763.00px;word-spacing:1.06px;transform:scaleX(1.0463);"><i>systems</i>, pages 5998–6008, 2017.</div>
<div class="l" style="left:471.30px;top:793.00px;word-spacing:1.26px;transform:scaleX(1.1000);">Thomas Wolf, Lysandre Debut, Victor Sanh, Julien</div>
<div class="l" style="left:486.30px;top:811.00px;word-spacing:4.98px;transform:scaleX(1.1115);">Chaumond, Clement Delangue, Anthony Moi,</div>
<div class="l" style="left:486.30px;top:829.00px;word-spacing:3.88px;transform:scaleX(1.1000);">Pierric Cistac, Tim Rault, Rémi Louf, Morgan</div>
<div class="l" style="left:486.30px;top:847.00px;word-spacing:-0.94px;transform:scaleX(1.1000);">Funtowicz, Joe Davison, Sam Shleifer, Patrick von</div>
<div class="l" style="left:486.30px;top:866.00px;word-spacing:0.48px;transform:scaleX(1.1000);">Platen, Clara Ma, Yacine Jernite, Julien Plu, Can-</div>
<div class="l" style="left:486.30px;top:884.00px;word-spacing:-0.91px;transform:scaleX(1.1000);">wen Xu, Teven Le Scao, Sylvain Gugger, Mariama</div>
<div class="l" style="left:486.30px;top:902.00px;word-spacing:0.84px;transform:scaleX(1.1000);">Drame, Quentin Lhoest, and Alexander M. Rush.</div>
<div class="l" style="left:486.30px;top:920.00px;word-spacing:-0.39px;transform:scaleX(1.1000);">Huggingface’s transformers: State-of-the-art natu-</div>
<div class="l" style="left:486.30px;top:938.00px;word-spacing:0.58px;transform:scaleX(1.1000);">ral language processing.&nbsp;&nbsp; <i>ArXiv</i>, abs/1910.03771,</div>
<div class="l" style="left:486.30px;top:956.00px;word-spacing:1.06px;transform:scaleX(1.0800);">2019.</div>
</div>
</body></html>
